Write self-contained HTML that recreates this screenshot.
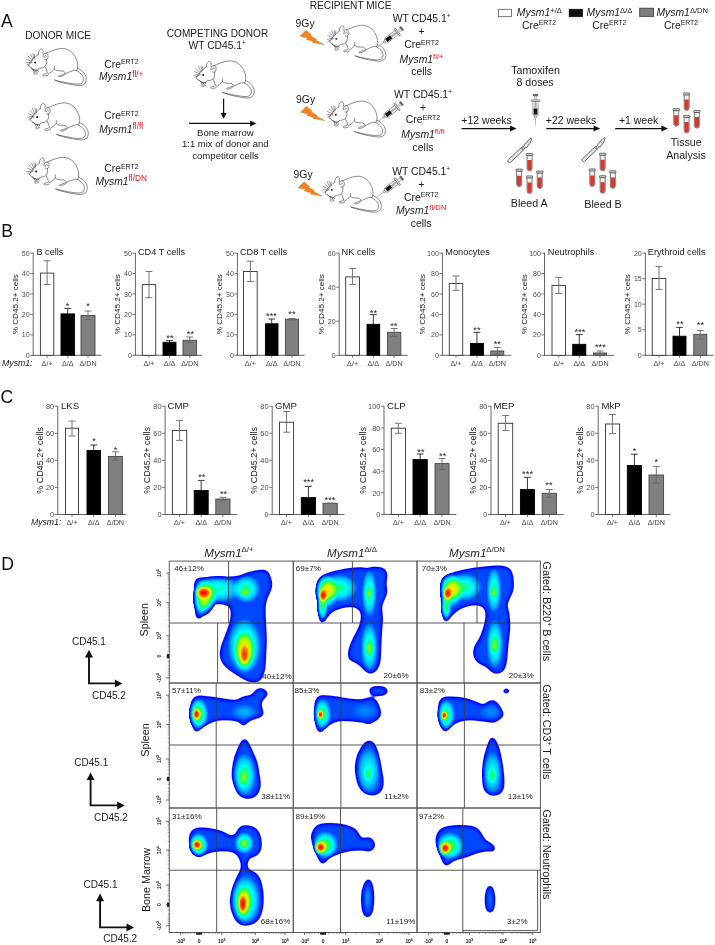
<!DOCTYPE html>
<html><head><meta charset="utf-8"><style>
html,body{margin:0;padding:0;background:#fff;overflow:hidden;width:715px;height:945px;}
svg{display:block;will-change:transform;}
text{font-family:"Liberation Sans", sans-serif;}
</style></head><body>
<svg width="715" height="945" viewBox="0 0 715 945" font-family='"Liberation Sans", sans-serif'>
<defs>

<g id="mouse" fill="none" stroke="#4a4a4a" stroke-width="0.65" stroke-linecap="round" stroke-linejoin="round">
<path fill="#fff" stroke="none" d="M6.4,21 C9,16 13,12 16.4,9.6 C16.5,5 19,3.5 21,6 L23.5,8.8 C30,5 36,3.6 41.1,3.9 C48,5 54,11 55.6,19 C56,22 55.8,24 55,25.5 C50,26 46,27 43,28 L41,32 L36,32 L33,28 L26,29 L25.5,31.8 L20.6,31.8 L16,29.4 L11,29 Z"/>
<path d="M6.4,21 C7.6,18.4 9.6,15.6 11.7,13.7 C13.2,12.3 14.8,10.8 16.3,9.8"/>
<path d="M16.3,9.8 C16.2,7.8 16.9,5.6 18.8,4.4 C20.4,4.2 21.3,5.6 21.1,7.2 L21,9.2"/>
<path fill="#fff" d="M21.0,12.6 C20.6,10.0 22.4,8.2 24.4,8.6 C26.4,9.2 26.6,12.6 25.4,14.4 C24.6,15.4 23.4,15.6 22.6,15.0"/>
<path d="M22.4,12.6 C22.4,11.0 24.0,10.4 24.7,11.9" stroke="#888" stroke-width="1.0"/>
<path d="M23.6,8.8 C25.5,7.8 27.4,7.3 29,6.6 C33,4.8 37,3.8 41.1,3.9 C45,4.2 48.5,6 51,9 C53.6,12 55.2,16 55.6,19.5 C55.9,22 55.6,24 54.8,25.5"/>
<path d="M55.6,23.6 C58.4,24.8 61.6,27 63.4,30.4 C64.8,33.4 64.6,37.2 62.6,39.2 C60.8,40.8 58,41.2 55,40.8 C49,40.1 43,38.9 38,37.4 C35.8,36.7 33.8,36 32.3,35.2"/>
<path d="M54.3,25.9 C56.8,27.2 59.2,29 60.6,31.4 C61.8,33.6 61.8,36.8 60.2,38.2 C58.6,39.6 56,39.7 53,39.4 C47,38.8 41,37.4 36,36.4 C35,36.1 34,35.9 33.3,35.7"/>
<path d="M24.5,14.7 C24.8,16.4 24.8,18.2 24.3,19.6 C23.8,21 23,22 21.8,22.8 C20.8,23.3 19.6,23.5 18.4,23.6"/>
<path d="M6.4,21 C7,22.2 8,23 9.2,23.4"/>
<path d="M23.2,22.2 C24.2,24 25,26.2 25.5,28.4 C24.8,29.2 23,29.6 21.4,29.8 C20.6,30 20.4,30.8 21.2,31.2 C22.6,31.6 24.6,31.4 26.2,30.6"/>
<path d="M32.3,21.5 C32.4,22.6 32.3,23.6 32.3,24.5 C33,25.3 34,25.8 35,26 C37,26.3 39.5,26.4 41.1,26.4 L43.1,27.9"/>
<path d="M43.4,28.4 C41.8,29.6 40,30.4 38.2,30.8 C37,31 36.4,31.4 36.6,32 C37.6,32.4 39.4,32 40.6,31.4 C42,30.6 43.6,29.4 45,28.4 C47,27.4 49,26.6 51,26 C52.4,25.6 53.4,25.6 54.3,25.9"/>
<path d="M26.2,29.4 C28.6,28.2 30.6,26.6 32.3,24.5"/>
<path d="M11.6,28 C12.8,28.2 14.4,28.4 16,28.4 C15,29.2 13.4,29.8 12.2,29.8 C11.4,29.6 11.4,28.8 12.2,28.6" stroke="#777"/>
<path stroke="#5a5a5a" stroke-width="0.6" d="M9.8,17.4 L3.8,18.2 M9.8,16.8 L4.4,14.6 M10.4,16 L6.2,11.6 M11,15.2 L8.6,9.6 M11.8,14.4 L11,9.2 M12.4,13.8 L12.6,9.8 M10.2,17.8 L5,20.2"/>
<path stroke="#555" stroke-width="0.95" d="M9,23.2 C10.4,24.6 12.4,25.6 14.4,25.8 C15.6,25.6 16.8,24.8 17.2,23.8 M10.6,24.4 L12.2,27 M12.6,25.2 L14.2,27.2 M14.6,25.2 L16,26.8"/>
<circle cx="13.2" cy="17.9" r="1.0" fill="#111" stroke="none"/>
</g>
<radialGradient id="rg"><stop offset="0" stop-color="#fff" stop-opacity="1"/><stop offset="0.3" stop-color="#fff" stop-opacity="0.88"/><stop offset="0.65" stop-color="#fff" stop-opacity="0.5"/><stop offset="1" stop-color="#fff" stop-opacity="0"/></radialGradient>
<filter id="jet" x="0" y="0" width="1" height="1" color-interpolation-filters="sRGB">
 <feGaussianBlur in="SourceGraphic" stdDeviation="0.5"/>
 <feColorMatrix type="matrix" values="0 0 0 1 0  0 0 0 1 0  0 0 0 1 0  0 0 0 1 0"/>
 <feComponentTransfer>
  <feFuncR type="table" tableValues="0.000 0.000 0.000 0.000 0.000 0.000 0.000 0.000 0.000 0.000 0.000 0.000 0.000 0.000 0.000 0.000 0.000 0.000 0.000 0.000 0.000 0.000 0.000 0.000 0.000 0.000 0.000 0.000 0.010 0.030 0.050 0.070 0.090 0.160 0.280 0.400 0.520 0.640 0.738 0.813 0.888 0.962 1.000 1.000 1.000 1.000 1.000 1.000 1.000 1.000 1.000"/>
  <feFuncG type="table" tableValues="0.000 0.000 0.000 0.000 0.000 0.000 0.000 0.000 0.000 0.035 0.070 0.105 0.140 0.175 0.210 0.245 0.280 0.352 0.425 0.497 0.569 0.642 0.714 0.775 0.825 0.875 0.925 0.975 1.000 1.000 1.000 1.000 1.000 1.000 1.000 1.000 1.000 1.000 0.987 0.962 0.937 0.913 0.844 0.731 0.619 0.506 0.400 0.300 0.200 0.100 0.000"/>
  <feFuncB type="table" tableValues="1.000 1.000 1.000 1.000 1.000 1.000 1.000 1.000 1.000 1.000 1.000 1.000 1.000 1.000 1.000 1.000 1.000 1.000 1.000 1.000 1.000 1.000 1.000 1.000 1.000 1.000 1.000 1.000 0.935 0.805 0.675 0.545 0.415 0.315 0.245 0.175 0.105 0.035 0.000 0.000 0.000 0.000 0.000 0.000 0.000 0.000 0.000 0.000 0.000 0.000 0.000"/>
  <feFuncA type="table" tableValues="0.000 0.000 0.000 0.000 0.000 0.000 0.333 0.667 1.000 1.000 1.000 1.000 1.000 1.000 1.000 1.000 1.000 1.000 1.000 1.000 1.000 1.000 1.000 1.000 1.000 1.000 1.000 1.000 1.000 1.000 1.000 1.000 1.000 1.000 1.000 1.000 1.000 1.000 1.000 1.000 1.000 1.000 1.000 1.000 1.000 1.000 1.000 1.000 1.000 1.000 1.000"/>
 </feComponentTransfer>
</filter>
<filter id="bl" x="-20%" y="-20%" width="140%" height="140%"><feGaussianBlur stdDeviation="2.0"/></filter>
</defs>
<rect width="715" height="945" fill="#fff"/>
<text x="1" y="27.4" font-size="17.6" fill="#111">A</text><text x="25.3" y="39.2" font-size="10.1" text-anchor="start" fill="#1a1a1a" >DONOR MICE</text><use href="#mouse" x="22" y="44.6"/><use href="#mouse" x="24" y="99"/><use href="#mouse" x="23" y="153.5"/><text x="121.5" y="67.5" font-size="10.3" text-anchor="middle" fill="#1a1a1a">Cre<tspan font-size="7.0" dy="-3.2">ERT2</tspan></text><text x="121.2" y="80.2" font-size="10.3" text-anchor="middle" fill="#1a1a1a"><tspan font-style="italic">Mysm1</tspan><tspan font-size="8.3" dy="-3.6" fill="#e8141c">fl/+</tspan></text><text x="121.5" y="119.2" font-size="10.3" text-anchor="middle" fill="#1a1a1a">Cre<tspan font-size="7.0" dy="-3.2">ERT2</tspan></text><text x="121.2" y="132.5" font-size="10.3" text-anchor="middle" fill="#1a1a1a"><tspan font-style="italic">Mysm1</tspan><tspan font-size="8.3" dy="-3.6" fill="#e8141c">fl/fl</tspan></text><text x="121.5" y="172" font-size="10.3" text-anchor="middle" fill="#1a1a1a">Cre<tspan font-size="7.0" dy="-3.2">ERT2</tspan></text><text x="121.2" y="184.8" font-size="10.3" text-anchor="middle" fill="#1a1a1a"><tspan font-style="italic">Mysm1</tspan><tspan font-size="8.3" dy="-3.6" fill="#e8141c">fl/DN</tspan></text><text x="217.5" y="36.6" font-size="10.1" text-anchor="middle" fill="#1a1a1a" >COMPETING DONOR</text><text x="217.2" y="49.4" font-size="10.3" text-anchor="middle" fill="#1a1a1a">WT CD45.1<tspan font-size="6.5" dy="-4">+</tspan></text><use href="#mouse" x="190" y="57"/><line x1="223.6" y1="98.4" x2="223.6" y2="116" stroke="#111" stroke-width="1.2"/><path d="M220.6,113 L226.6,113 L223.6,118.8 Z" fill="#111"/><line x1="189" y1="123.4" x2="251" y2="123.4" stroke="#111" stroke-width="1.3"/><path d="M250,120.4 L256.6,123.4 L250,126.4 Z" fill="#111"/><text x="225.3" y="135.6" font-size="9.5" text-anchor="middle" fill="#1a1a1a" >Bone marrow</text><text x="225.3" y="147.3" font-size="9.5" text-anchor="middle" fill="#1a1a1a" >1:1 mix of donor and</text><text x="225.5" y="159.0" font-size="9.6" text-anchor="middle" fill="#1a1a1a" >competitor cells</text><text x="350.6" y="8.9" font-size="10.1" text-anchor="middle" fill="#1a1a1a" >RECIPIENT MICE</text><text x="295.6" y="26.6" font-size="10.4" text-anchor="start" fill="#1a1a1a" >9Gy</text><polygon points="300.0,36.3 306.0,30.3 311.6,35.1 310.4,35.7 316.6,39.3 315.4,39.9 324.2,44.6 312.4,42.6 313.6,41.4 306.4,39.5 307.6,38.1" fill="#ef8424" stroke="#d06a12" stroke-width="0.4" stroke-linejoin="round"/><use href="#mouse" transform="translate(323.5,21.5) scale(0.97)"/><g transform="translate(377.6,47.2) rotate(-37.7)"><g fill="none" stroke="#444" stroke-width="0.5">
<line x1="0" y1="0" x2="7.6" y2="0" stroke="#777" stroke-width="0.5"/>
<circle cx="8.6" cy="0" r="1.1" fill="#fff"/>
<path d="M9.7,-0.8 L10.6,-2.6 L24.2,-2.6 L24.2,2.6 L10.6,2.6 L9.7,0.8 Z" fill="#fff"/>
<rect x="11" y="-1.9" width="6.2" height="3.8" fill="#111" stroke="none"/>
<line x1="17.2" y1="0" x2="24" y2="0" stroke="#aaa" stroke-width="2.2"/>
<rect x="24.2" y="-4.6" width="1.5" height="9.2" rx="0.7" fill="#ddd"/>
<rect x="25.7" y="-1.3" width="4.0" height="2.6" fill="#ddd" stroke="#999"/>
<rect x="29.7" y="-2.3" width="1.6" height="4.6" fill="#666" stroke="#555"/>
</g></g><text x="421.6" y="22.4" font-size="10.4" text-anchor="middle" fill="#1a1a1a">WT CD45.1<tspan font-size="6.5" dy="-4">+</tspan></text><text x="421.6" y="35.1" font-size="10.4" text-anchor="middle" fill="#1a1a1a" >+</text><text x="421.6" y="48.3" font-size="10.4" text-anchor="middle" fill="#1a1a1a">Cre<tspan font-size="7.0" dy="-3.2">ERT2</tspan></text><text x="421.6" y="62.5" font-size="10.4" text-anchor="middle" fill="#1a1a1a"><tspan font-style="italic">Mysm1</tspan><tspan font-size="7.7" dy="-3.6" fill="#e8141c">fl/+</tspan></text><text x="421.6" y="74.5" font-size="10.4" text-anchor="middle" fill="#1a1a1a" >cells</text><text x="296.1" y="102.6" font-size="10.4" text-anchor="start" fill="#1a1a1a" >9Gy</text><polygon points="300.5,112.3 306.5,106.3 312.1,111.1 310.9,111.7 317.1,115.3 315.9,115.9 324.7,120.6 312.9,118.6 314.1,117.4 306.9,115.5 308.1,114.1" fill="#ef8424" stroke="#d06a12" stroke-width="0.4" stroke-linejoin="round"/><use href="#mouse" transform="translate(323.0,97.3) scale(0.97)"/><g transform="translate(377.3,122.2) rotate(-37.7)"><g fill="none" stroke="#444" stroke-width="0.5">
<line x1="0" y1="0" x2="7.6" y2="0" stroke="#777" stroke-width="0.5"/>
<circle cx="8.6" cy="0" r="1.1" fill="#fff"/>
<path d="M9.7,-0.8 L10.6,-2.6 L24.2,-2.6 L24.2,2.6 L10.6,2.6 L9.7,0.8 Z" fill="#fff"/>
<rect x="11" y="-1.9" width="6.2" height="3.8" fill="#111" stroke="none"/>
<line x1="17.2" y1="0" x2="24" y2="0" stroke="#aaa" stroke-width="2.2"/>
<rect x="24.2" y="-4.6" width="1.5" height="9.2" rx="0.7" fill="#ddd"/>
<rect x="25.7" y="-1.3" width="4.0" height="2.6" fill="#ddd" stroke="#999"/>
<rect x="29.7" y="-2.3" width="1.6" height="4.6" fill="#666" stroke="#555"/>
</g></g><text x="423.0" y="97.6" font-size="10.4" text-anchor="middle" fill="#1a1a1a">WT CD45.1<tspan font-size="6.5" dy="-4">+</tspan></text><text x="423.0" y="110.8" font-size="10.4" text-anchor="middle" fill="#1a1a1a" >+</text><text x="423.0" y="123.3" font-size="10.4" text-anchor="middle" fill="#1a1a1a">Cre<tspan font-size="7.0" dy="-3.2">ERT2</tspan></text><text x="423.0" y="137.5" font-size="10.4" text-anchor="middle" fill="#1a1a1a"><tspan font-style="italic">Mysm1</tspan><tspan font-size="7.7" dy="-3.6" fill="#e8141c">fl/fl</tspan></text><text x="423.0" y="150.6" font-size="10.4" text-anchor="middle" fill="#1a1a1a" >cells</text><text x="293.6" y="178.1" font-size="10.4" text-anchor="start" fill="#1a1a1a" >9Gy</text><polygon points="298.0,187.8 304.0,181.8 309.6,186.6 308.4,187.2 314.6,190.8 313.4,191.4 322.2,196.1 310.4,194.1 311.6,192.9 304.4,191.0 305.6,189.6" fill="#ef8424" stroke="#d06a12" stroke-width="0.4" stroke-linejoin="round"/><use href="#mouse" transform="translate(319.0,172.5) scale(0.97)"/><g transform="translate(377.6,196.8) rotate(-37.7)"><g fill="none" stroke="#444" stroke-width="0.5">
<line x1="0" y1="0" x2="7.6" y2="0" stroke="#777" stroke-width="0.5"/>
<circle cx="8.6" cy="0" r="1.1" fill="#fff"/>
<path d="M9.7,-0.8 L10.6,-2.6 L24.2,-2.6 L24.2,2.6 L10.6,2.6 L9.7,0.8 Z" fill="#fff"/>
<rect x="11" y="-1.9" width="6.2" height="3.8" fill="#111" stroke="none"/>
<line x1="17.2" y1="0" x2="24" y2="0" stroke="#aaa" stroke-width="2.2"/>
<rect x="24.2" y="-4.6" width="1.5" height="9.2" rx="0.7" fill="#ddd"/>
<rect x="25.7" y="-1.3" width="4.0" height="2.6" fill="#ddd" stroke="#999"/>
<rect x="29.7" y="-2.3" width="1.6" height="4.6" fill="#666" stroke="#555"/>
</g></g><text x="421.2" y="175.1" font-size="10.4" text-anchor="middle" fill="#1a1a1a">WT CD45.1<tspan font-size="6.5" dy="-4">+</tspan></text><text x="421.2" y="188.2" font-size="10.4" text-anchor="middle" fill="#1a1a1a" >+</text><text x="421.2" y="200.6" font-size="10.4" text-anchor="middle" fill="#1a1a1a">Cre<tspan font-size="7.0" dy="-3.2">ERT2</tspan></text><text x="421.2" y="213.9" font-size="10.4" text-anchor="middle" fill="#1a1a1a"><tspan font-style="italic">Mysm1</tspan><tspan font-size="7.7" dy="-3.6" fill="#e8141c">fl/DN</tspan></text><text x="421.2" y="226.5" font-size="10.4" text-anchor="middle" fill="#1a1a1a" >cells</text><rect x="498.3" y="9.3" width="13.2" height="7.4" fill="#fff" stroke="#555" stroke-width="0.8"/><rect x="569.2" y="9.3" width="13.2" height="7.4" fill="#111" stroke="#111" stroke-width="0.8"/><rect x="639.7" y="8.2" width="13.8" height="8.2" fill="#7f7f7f" stroke="#444" stroke-width="0.9"/><text x="516.8" y="16.4" font-size="10.4" fill="#1a1a1a"><tspan font-style="italic">Mysm1</tspan><tspan font-size="7.6" dy="-3.8">+/Δ</tspan></text><text x="586.6" y="16.4" font-size="10.4" fill="#1a1a1a"><tspan font-style="italic">Mysm1</tspan><tspan font-size="7.6" dy="-3.8">Δ/Δ</tspan></text><text x="656.4" y="16.4" font-size="10.4" fill="#1a1a1a"><tspan font-style="italic">Mysm1</tspan><tspan font-size="7.6" dy="-3.8">Δ/DN</tspan></text><text x="522.0" y="28.8" font-size="10.4" fill="#1a1a1a">Cre<tspan font-size="6.8" dy="-3.6">ERT2</tspan></text><text x="592.3" y="28.8" font-size="10.4" fill="#1a1a1a">Cre<tspan font-size="6.8" dy="-3.6">ERT2</tspan></text><text x="664.0" y="28.8" font-size="10.4" fill="#1a1a1a">Cre<tspan font-size="6.8" dy="-3.6">ERT2</tspan></text><text x="535.5" y="74" font-size="10.7" text-anchor="middle" fill="#1a1a1a" >Tamoxifen</text><text x="535.1" y="86.3" font-size="10.6" text-anchor="middle" fill="#1a1a1a" >8 doses</text><g transform="translate(535.5,125.6) rotate(-90)"><g fill="none" stroke="#444" stroke-width="0.5">
<line x1="0" y1="0" x2="7.6" y2="0" stroke="#777" stroke-width="0.5"/>
<circle cx="8.6" cy="0" r="1.1" fill="#fff"/>
<path d="M9.7,-0.8 L10.6,-2.6 L24.2,-2.6 L24.2,2.6 L10.6,2.6 L9.7,0.8 Z" fill="#fff"/>
<rect x="11" y="-1.9" width="6.2" height="3.8" fill="#111" stroke="none"/>
<line x1="17.2" y1="0" x2="24" y2="0" stroke="#aaa" stroke-width="2.2"/>
<rect x="24.2" y="-4.6" width="1.5" height="9.2" rx="0.7" fill="#ddd"/>
<rect x="25.7" y="-1.3" width="4.0" height="2.6" fill="#ddd" stroke="#999"/>
<rect x="29.7" y="-2.3" width="1.6" height="4.6" fill="#666" stroke="#555"/>
</g></g><line x1="461.6" y1="128.6" x2="510.6" y2="128.6" stroke="#111" stroke-width="1.3"/><path d="M510.0,125.6 L516.6,128.6 L510.0,131.6 Z" fill="#111"/><text x="486.6" y="123.6" font-size="10.5" text-anchor="middle" fill="#1a1a1a" >+12 weeks</text><line x1="546.3" y1="128.6" x2="594.2" y2="128.6" stroke="#111" stroke-width="1.3"/><path d="M593.6,125.6 L600.2,128.6 L593.6,131.6 Z" fill="#111"/><text x="571.0" y="123.6" font-size="10.5" text-anchor="middle" fill="#1a1a1a" >+22 weeks</text><line x1="615.2" y1="128.6" x2="662.0" y2="128.6" stroke="#111" stroke-width="1.3"/><path d="M661.4,125.6 L668.0,128.6 L661.4,131.6 Z" fill="#111"/><text x="638.6" y="123.6" font-size="10.5" text-anchor="middle" fill="#1a1a1a" >+1 week</text><g transform="translate(509.6,160.9) rotate(-43.3) scale(1.0)"><g stroke="#222" stroke-width="0.7" stroke-linejoin="round">
<path d="M0,-1.65 L18.4,-1.65 L19.4,-0.9 L19.4,0.9 L18.4,1.65 L0,1.65 A1.65,1.65 0 0 1 0,-1.65 Z" fill="#fff"/>
<path d="M1.6,-1.05 L1.6,1.05 M2.8,-1.05 L2.8,1.05 M3.9,-1.05 L3.9,1.05 M5.0,-1.05 L5.0,1.05 M6.2,-1.05 L6.2,1.05 M7.3,-1.05 L7.3,1.05 M8.5,-1.05 L8.5,1.05 M9.6,-1.05 L9.6,1.05 M10.8,-1.05 L10.8,1.05 M11.9,-1.05 L11.9,1.05 M13.1,-1.05 L13.1,1.05 M14.2,-1.05 L14.2,1.05 M15.4,-1.05 L15.4,1.05 M16.6,-1.05 L16.6,1.05" stroke="#9a9a9a" stroke-width="0.45"/>
<path d="M17,0.9 L18.6,0 L17,-0.9 Z" fill="#fff" stroke-width="0.4"/>
<path d="M19.4,-0.8 L20.6,-0.8 L22,-1.9 L29.6,-2.2 Q31.8,-2.0 31.3,-0.9 Q27,1.95 21.4,1.95 L20.6,0.8 L19.4,0.8" fill="#fff"/>
<path d="M22.6,-1.1 L28.5,-1.3 M22.8,0.4 L27.5,-0.4" stroke="#8a8a8a" stroke-width="0.5"/>
</g></g><g transform="translate(526.25,153.2)"><g>
<path d="M0.8,2.0 L0.8,15.2 Q0.8,17.7 3.3,17.8 Q5.8,17.7 5.8,15.2 L5.8,2.0 Z" fill="#eef0f2" stroke="#3a3a3a" stroke-width="0.65"/>
<path d="M1.15,6.8 L1.15,15.2 Q1.15,17.3 3.3,17.4 Q5.45,17.3 5.45,15.2 L5.45,6.8 Z" fill="#d63a2e"/>
<rect x="0.15" y="0.2" width="6.3" height="2.0" rx="0.5" fill="#d8d8d8" stroke="#3a3a3a" stroke-width="0.7"/>
</g></g><g transform="translate(515.85,168.89999999999998)"><g>
<path d="M0.8,2.0 L0.8,15.2 Q0.8,17.7 3.3,17.8 Q5.8,17.7 5.8,15.2 L5.8,2.0 Z" fill="#eef0f2" stroke="#3a3a3a" stroke-width="0.65"/>
<path d="M1.15,6.8 L1.15,15.2 Q1.15,17.3 3.3,17.4 Q5.45,17.3 5.45,15.2 L5.45,6.8 Z" fill="#d63a2e"/>
<rect x="0.15" y="0.2" width="6.3" height="2.0" rx="0.5" fill="#d8d8d8" stroke="#3a3a3a" stroke-width="0.7"/>
</g></g><g transform="translate(526.25,175.7)"><g>
<path d="M0.8,2.0 L0.8,15.2 Q0.8,17.7 3.3,17.8 Q5.8,17.7 5.8,15.2 L5.8,2.0 Z" fill="#eef0f2" stroke="#3a3a3a" stroke-width="0.65"/>
<path d="M1.15,6.8 L1.15,15.2 Q1.15,17.3 3.3,17.4 Q5.45,17.3 5.45,15.2 L5.45,6.8 Z" fill="#d63a2e"/>
<rect x="0.15" y="0.2" width="6.3" height="2.0" rx="0.5" fill="#d8d8d8" stroke="#3a3a3a" stroke-width="0.7"/>
</g></g><g transform="translate(536.45,170.79999999999998)"><g>
<path d="M0.8,2.0 L0.8,15.2 Q0.8,17.7 3.3,17.8 Q5.8,17.7 5.8,15.2 L5.8,2.0 Z" fill="#eef0f2" stroke="#3a3a3a" stroke-width="0.65"/>
<path d="M1.15,6.8 L1.15,15.2 Q1.15,17.3 3.3,17.4 Q5.45,17.3 5.45,15.2 L5.45,6.8 Z" fill="#d63a2e"/>
<rect x="0.15" y="0.2" width="6.3" height="2.0" rx="0.5" fill="#d8d8d8" stroke="#3a3a3a" stroke-width="0.7"/>
</g></g><text x="529.2" y="207.2" font-size="10.7" text-anchor="middle" fill="#1a1a1a" >Bleed A</text><g transform="translate(583.6,160.0) rotate(-43.6) scale(0.98)"><g stroke="#222" stroke-width="0.7" stroke-linejoin="round">
<path d="M0,-1.65 L18.4,-1.65 L19.4,-0.9 L19.4,0.9 L18.4,1.65 L0,1.65 A1.65,1.65 0 0 1 0,-1.65 Z" fill="#fff"/>
<path d="M1.6,-1.05 L1.6,1.05 M2.8,-1.05 L2.8,1.05 M3.9,-1.05 L3.9,1.05 M5.0,-1.05 L5.0,1.05 M6.2,-1.05 L6.2,1.05 M7.3,-1.05 L7.3,1.05 M8.5,-1.05 L8.5,1.05 M9.6,-1.05 L9.6,1.05 M10.8,-1.05 L10.8,1.05 M11.9,-1.05 L11.9,1.05 M13.1,-1.05 L13.1,1.05 M14.2,-1.05 L14.2,1.05 M15.4,-1.05 L15.4,1.05 M16.6,-1.05 L16.6,1.05" stroke="#9a9a9a" stroke-width="0.45"/>
<path d="M17,0.9 L18.6,0 L17,-0.9 Z" fill="#fff" stroke-width="0.4"/>
<path d="M19.4,-0.8 L20.6,-0.8 L22,-1.9 L29.6,-2.2 Q31.8,-2.0 31.3,-0.9 Q27,1.95 21.4,1.95 L20.6,0.8 L19.4,0.8" fill="#fff"/>
<path d="M22.6,-1.1 L28.5,-1.3 M22.8,0.4 L27.5,-0.4" stroke="#8a8a8a" stroke-width="0.5"/>
</g></g><g transform="translate(599.35,153.0)"><g>
<path d="M0.8,2.0 L0.8,15.2 Q0.8,17.7 3.3,17.8 Q5.8,17.7 5.8,15.2 L5.8,2.0 Z" fill="#eef0f2" stroke="#3a3a3a" stroke-width="0.65"/>
<path d="M1.15,6.8 L1.15,15.2 Q1.15,17.3 3.3,17.4 Q5.45,17.3 5.45,15.2 L5.45,6.8 Z" fill="#d63a2e"/>
<rect x="0.15" y="0.2" width="6.3" height="2.0" rx="0.5" fill="#d8d8d8" stroke="#3a3a3a" stroke-width="0.7"/>
</g></g><g transform="translate(588.95,168.7)"><g>
<path d="M0.8,2.0 L0.8,15.2 Q0.8,17.7 3.3,17.8 Q5.8,17.7 5.8,15.2 L5.8,2.0 Z" fill="#eef0f2" stroke="#3a3a3a" stroke-width="0.65"/>
<path d="M1.15,6.8 L1.15,15.2 Q1.15,17.3 3.3,17.4 Q5.45,17.3 5.45,15.2 L5.45,6.8 Z" fill="#d63a2e"/>
<rect x="0.15" y="0.2" width="6.3" height="2.0" rx="0.5" fill="#d8d8d8" stroke="#3a3a3a" stroke-width="0.7"/>
</g></g><g transform="translate(599.35,175.5)"><g>
<path d="M0.8,2.0 L0.8,15.2 Q0.8,17.7 3.3,17.8 Q5.8,17.7 5.8,15.2 L5.8,2.0 Z" fill="#eef0f2" stroke="#3a3a3a" stroke-width="0.65"/>
<path d="M1.15,6.8 L1.15,15.2 Q1.15,17.3 3.3,17.4 Q5.45,17.3 5.45,15.2 L5.45,6.8 Z" fill="#d63a2e"/>
<rect x="0.15" y="0.2" width="6.3" height="2.0" rx="0.5" fill="#d8d8d8" stroke="#3a3a3a" stroke-width="0.7"/>
</g></g><g transform="translate(609.5500000000001,170.6)"><g>
<path d="M0.8,2.0 L0.8,15.2 Q0.8,17.7 3.3,17.8 Q5.8,17.7 5.8,15.2 L5.8,2.0 Z" fill="#eef0f2" stroke="#3a3a3a" stroke-width="0.65"/>
<path d="M1.15,6.8 L1.15,15.2 Q1.15,17.3 3.3,17.4 Q5.45,17.3 5.45,15.2 L5.45,6.8 Z" fill="#d63a2e"/>
<rect x="0.15" y="0.2" width="6.3" height="2.0" rx="0.5" fill="#d8d8d8" stroke="#3a3a3a" stroke-width="0.7"/>
</g></g><text x="603.0" y="207.5" font-size="10.7" text-anchor="middle" fill="#1a1a1a" >Bleed B</text><g transform="translate(683.35,92.7)"><g>
<path d="M0.8,2.0 L0.8,15.2 Q0.8,17.7 3.3,17.8 Q5.8,17.7 5.8,15.2 L5.8,2.0 Z" fill="#eef0f2" stroke="#3a3a3a" stroke-width="0.65"/>
<path d="M1.15,6.8 L1.15,15.2 Q1.15,17.3 3.3,17.4 Q5.45,17.3 5.45,15.2 L5.45,6.8 Z" fill="#d63a2e"/>
<rect x="0.15" y="0.2" width="6.3" height="2.0" rx="0.5" fill="#d8d8d8" stroke="#3a3a3a" stroke-width="0.7"/>
</g></g><g transform="translate(672.95,108.4)"><g>
<path d="M0.8,2.0 L0.8,15.2 Q0.8,17.7 3.3,17.8 Q5.8,17.7 5.8,15.2 L5.8,2.0 Z" fill="#eef0f2" stroke="#3a3a3a" stroke-width="0.65"/>
<path d="M1.15,6.8 L1.15,15.2 Q1.15,17.3 3.3,17.4 Q5.45,17.3 5.45,15.2 L5.45,6.8 Z" fill="#d63a2e"/>
<rect x="0.15" y="0.2" width="6.3" height="2.0" rx="0.5" fill="#d8d8d8" stroke="#3a3a3a" stroke-width="0.7"/>
</g></g><g transform="translate(683.35,115.2)"><g>
<path d="M0.8,2.0 L0.8,15.2 Q0.8,17.7 3.3,17.8 Q5.8,17.7 5.8,15.2 L5.8,2.0 Z" fill="#eef0f2" stroke="#3a3a3a" stroke-width="0.65"/>
<path d="M1.15,6.8 L1.15,15.2 Q1.15,17.3 3.3,17.4 Q5.45,17.3 5.45,15.2 L5.45,6.8 Z" fill="#d63a2e"/>
<rect x="0.15" y="0.2" width="6.3" height="2.0" rx="0.5" fill="#d8d8d8" stroke="#3a3a3a" stroke-width="0.7"/>
</g></g><g transform="translate(693.5500000000001,110.30000000000001)"><g>
<path d="M0.8,2.0 L0.8,15.2 Q0.8,17.7 3.3,17.8 Q5.8,17.7 5.8,15.2 L5.8,2.0 Z" fill="#eef0f2" stroke="#3a3a3a" stroke-width="0.65"/>
<path d="M1.15,6.8 L1.15,15.2 Q1.15,17.3 3.3,17.4 Q5.45,17.3 5.45,15.2 L5.45,6.8 Z" fill="#d63a2e"/>
<rect x="0.15" y="0.2" width="6.3" height="2.0" rx="0.5" fill="#d8d8d8" stroke="#3a3a3a" stroke-width="0.7"/>
</g></g><text x="686.2" y="145.9" font-size="10.6" text-anchor="middle" fill="#1a1a1a" >Tissue</text><text x="686.0" y="158.7" font-size="10.6" text-anchor="middle" fill="#1a1a1a" >Analysis</text>
<text x="1.2" y="236.6" font-size="17.6" fill="#111">B</text><text x="0.6" y="402.8" font-size="17.6" fill="#111">C</text><line x1="33.2" y1="252.79999999999998" x2="33.2" y2="355.7" stroke="#555" stroke-width="0.9"/><line x1="32.800000000000004" y1="355.3" x2="101.5" y2="355.3" stroke="#555" stroke-width="0.9"/><line x1="30.200000000000003" y1="355.30" x2="33.2" y2="355.30" stroke="#555" stroke-width="0.8"/><text x="29.6" y="357.82" font-size="7.0" text-anchor="end" fill="#4a4a4a">0</text><line x1="30.200000000000003" y1="334.86" x2="33.2" y2="334.86" stroke="#555" stroke-width="0.8"/><text x="29.6" y="337.38" font-size="7.0" text-anchor="end" fill="#4a4a4a">10</text><line x1="30.200000000000003" y1="314.42" x2="33.2" y2="314.42" stroke="#555" stroke-width="0.8"/><text x="29.6" y="316.94" font-size="7.0" text-anchor="end" fill="#4a4a4a">20</text><line x1="30.200000000000003" y1="293.98" x2="33.2" y2="293.98" stroke="#555" stroke-width="0.8"/><text x="29.6" y="296.50" font-size="7.0" text-anchor="end" fill="#4a4a4a">30</text><line x1="30.200000000000003" y1="273.54" x2="33.2" y2="273.54" stroke="#555" stroke-width="0.8"/><text x="29.6" y="276.06" font-size="7.0" text-anchor="end" fill="#4a4a4a">40</text><line x1="30.200000000000003" y1="253.10" x2="33.2" y2="253.10" stroke="#555" stroke-width="0.8"/><text x="29.6" y="255.62" font-size="7.0" text-anchor="end" fill="#4a4a4a">50</text><text x="36.4" y="254.7" font-size="9.2" fill="#1a1a1a">B cells</text><text transform="translate(18.12,304.20) rotate(-90)" x="0" y="0" font-size="8.1" text-anchor="middle" fill="#1a1a1a">% CD45.2+ cells</text><rect x="40.4" y="273.1" width="13.399999999999999" height="82.19999999999999" fill="#fff" stroke="#333" stroke-width="0.9"/><line x1="47.10" y1="260.8" x2="47.10" y2="284.5" stroke="#666" stroke-width="0.9"/><line x1="43.70" y1="260.8" x2="50.50" y2="260.8" stroke="#666" stroke-width="0.9"/><line x1="43.70" y1="284.5" x2="50.50" y2="284.5" stroke="#666" stroke-width="0.9"/><line x1="47.10" y1="355.3" x2="47.10" y2="357.90000000000003" stroke="#555" stroke-width="0.8"/><rect x="61" y="313.9" width="13.599999999999994" height="41.400000000000034" fill="#000" stroke="#000" stroke-width="0.9"/><line x1="67.80" y1="308.4" x2="67.80" y2="313.9" stroke="#222" stroke-width="0.9"/><line x1="64.40" y1="308.4" x2="71.20" y2="308.4" stroke="#222" stroke-width="0.9"/><line x1="67.80" y1="355.3" x2="67.80" y2="357.90000000000003" stroke="#555" stroke-width="0.8"/><rect x="81" y="315.5" width="14" height="39.80000000000001" fill="#808080" stroke="#444" stroke-width="0.9"/><line x1="88.00" y1="311" x2="88.00" y2="319.6" stroke="#666" stroke-width="0.9"/><line x1="84.60" y1="311" x2="91.40" y2="311" stroke="#666" stroke-width="0.9"/><line x1="84.60" y1="319.6" x2="91.40" y2="319.6" stroke="#666" stroke-width="0.9"/><line x1="88.00" y1="355.3" x2="88.00" y2="357.90000000000003" stroke="#555" stroke-width="0.8"/><text x="67.7" y="309.0" font-size="9.4" text-anchor="middle" fill="#222">*</text><text x="88.2" y="309.0" font-size="9.4" text-anchor="middle" fill="#222">*</text><text x="47.10" y="366.20" font-size="7.2" text-anchor="middle" fill="#444">Δ/+</text><text x="67.80" y="366.20" font-size="7.2" text-anchor="middle" fill="#444">Δ/Δ</text><text x="88.00" y="366.20" font-size="7.2" text-anchor="middle" fill="#444">Δ/DN</text><line x1="135.4" y1="252.79999999999998" x2="135.4" y2="355.7" stroke="#555" stroke-width="0.9"/><line x1="135.0" y1="355.3" x2="202.3" y2="355.3" stroke="#555" stroke-width="0.9"/><line x1="132.4" y1="355.30" x2="135.4" y2="355.30" stroke="#555" stroke-width="0.8"/><text x="131.8" y="357.82" font-size="7.0" text-anchor="end" fill="#4a4a4a">0</text><line x1="132.4" y1="334.86" x2="135.4" y2="334.86" stroke="#555" stroke-width="0.8"/><text x="131.8" y="337.38" font-size="7.0" text-anchor="end" fill="#4a4a4a">10</text><line x1="132.4" y1="314.42" x2="135.4" y2="314.42" stroke="#555" stroke-width="0.8"/><text x="131.8" y="316.94" font-size="7.0" text-anchor="end" fill="#4a4a4a">20</text><line x1="132.4" y1="293.98" x2="135.4" y2="293.98" stroke="#555" stroke-width="0.8"/><text x="131.8" y="296.50" font-size="7.0" text-anchor="end" fill="#4a4a4a">30</text><line x1="132.4" y1="273.54" x2="135.4" y2="273.54" stroke="#555" stroke-width="0.8"/><text x="131.8" y="276.06" font-size="7.0" text-anchor="end" fill="#4a4a4a">40</text><line x1="132.4" y1="253.10" x2="135.4" y2="253.10" stroke="#555" stroke-width="0.8"/><text x="131.8" y="255.62" font-size="7.0" text-anchor="end" fill="#4a4a4a">50</text><text x="137.9" y="254.7" font-size="9.2" fill="#1a1a1a">CD4 T cells</text><text transform="translate(120.32,304.20) rotate(-90)" x="0" y="0" font-size="8.1" text-anchor="middle" fill="#1a1a1a">% CD45.2+ cells</text><rect x="142.3" y="284.6" width="13.399999999999977" height="70.69999999999999" fill="#fff" stroke="#333" stroke-width="0.9"/><line x1="149.00" y1="271.5" x2="149.00" y2="297.7" stroke="#666" stroke-width="0.9"/><line x1="145.60" y1="271.5" x2="152.40" y2="271.5" stroke="#666" stroke-width="0.9"/><line x1="145.60" y1="297.7" x2="152.40" y2="297.7" stroke="#666" stroke-width="0.9"/><line x1="149.00" y1="355.3" x2="149.00" y2="357.90000000000003" stroke="#555" stroke-width="0.8"/><rect x="163" y="342.3" width="13" height="13.0" fill="#000" stroke="#000" stroke-width="0.9"/><line x1="169.50" y1="340.6" x2="169.50" y2="342.3" stroke="#222" stroke-width="0.9"/><line x1="166.10" y1="340.6" x2="172.90" y2="340.6" stroke="#222" stroke-width="0.9"/><line x1="169.50" y1="355.3" x2="169.50" y2="357.90000000000003" stroke="#555" stroke-width="0.8"/><rect x="183" y="340.3" width="13.599999999999994" height="15.0" fill="#808080" stroke="#444" stroke-width="0.9"/><line x1="189.80" y1="337" x2="189.80" y2="342.8" stroke="#666" stroke-width="0.9"/><line x1="186.40" y1="337" x2="193.20" y2="337" stroke="#666" stroke-width="0.9"/><line x1="186.40" y1="342.8" x2="193.20" y2="342.8" stroke="#666" stroke-width="0.9"/><line x1="189.80" y1="355.3" x2="189.80" y2="357.90000000000003" stroke="#555" stroke-width="0.8"/><text x="170" y="341.0" font-size="9.4" text-anchor="middle" fill="#222">**</text><text x="190.5" y="337.0" font-size="9.4" text-anchor="middle" fill="#222">**</text><text x="149.00" y="366.20" font-size="7.2" text-anchor="middle" fill="#444">Δ/+</text><text x="169.50" y="366.20" font-size="7.2" text-anchor="middle" fill="#444">Δ/Δ</text><text x="189.80" y="366.20" font-size="7.2" text-anchor="middle" fill="#444">Δ/DN</text><line x1="237.4" y1="252.79999999999998" x2="237.4" y2="355.7" stroke="#555" stroke-width="0.9"/><line x1="237.0" y1="355.3" x2="304.6" y2="355.3" stroke="#555" stroke-width="0.9"/><line x1="234.4" y1="355.30" x2="237.4" y2="355.30" stroke="#555" stroke-width="0.8"/><text x="233.8" y="357.82" font-size="7.0" text-anchor="end" fill="#4a4a4a">0</text><line x1="234.4" y1="334.86" x2="237.4" y2="334.86" stroke="#555" stroke-width="0.8"/><text x="233.8" y="337.38" font-size="7.0" text-anchor="end" fill="#4a4a4a">10</text><line x1="234.4" y1="314.42" x2="237.4" y2="314.42" stroke="#555" stroke-width="0.8"/><text x="233.8" y="316.94" font-size="7.0" text-anchor="end" fill="#4a4a4a">20</text><line x1="234.4" y1="293.98" x2="237.4" y2="293.98" stroke="#555" stroke-width="0.8"/><text x="233.8" y="296.50" font-size="7.0" text-anchor="end" fill="#4a4a4a">30</text><line x1="234.4" y1="273.54" x2="237.4" y2="273.54" stroke="#555" stroke-width="0.8"/><text x="233.8" y="276.06" font-size="7.0" text-anchor="end" fill="#4a4a4a">40</text><line x1="234.4" y1="253.10" x2="237.4" y2="253.10" stroke="#555" stroke-width="0.8"/><text x="233.8" y="255.62" font-size="7.0" text-anchor="end" fill="#4a4a4a">50</text><text x="239.9" y="254.7" font-size="9.2" fill="#1a1a1a">CD8 T cells</text><text transform="translate(222.32,304.20) rotate(-90)" x="0" y="0" font-size="8.1" text-anchor="middle" fill="#1a1a1a">% CD45.2+ cells</text><rect x="243.5" y="271.5" width="13.699999999999989" height="83.80000000000001" fill="#fff" stroke="#333" stroke-width="0.9"/><line x1="250.35" y1="261.2" x2="250.35" y2="281.5" stroke="#666" stroke-width="0.9"/><line x1="246.95" y1="261.2" x2="253.75" y2="261.2" stroke="#666" stroke-width="0.9"/><line x1="246.95" y1="281.5" x2="253.75" y2="281.5" stroke="#666" stroke-width="0.9"/><line x1="250.35" y1="355.3" x2="250.35" y2="357.90000000000003" stroke="#555" stroke-width="0.8"/><rect x="265.4" y="323.8" width="12.600000000000023" height="31.5" fill="#000" stroke="#000" stroke-width="0.9"/><line x1="271.70" y1="319" x2="271.70" y2="323.8" stroke="#222" stroke-width="0.9"/><line x1="268.30" y1="319" x2="275.10" y2="319" stroke="#222" stroke-width="0.9"/><line x1="271.70" y1="355.3" x2="271.70" y2="357.90000000000003" stroke="#555" stroke-width="0.8"/><rect x="285.4" y="319.2" width="13.100000000000023" height="36.10000000000002" fill="#808080" stroke="#444" stroke-width="0.9"/><line x1="291.95" y1="318.4" x2="291.95" y2="320" stroke="#666" stroke-width="0.9"/><line x1="288.55" y1="318.4" x2="295.35" y2="318.4" stroke="#666" stroke-width="0.9"/><line x1="288.55" y1="320" x2="295.35" y2="320" stroke="#666" stroke-width="0.9"/><line x1="291.95" y1="355.3" x2="291.95" y2="357.90000000000003" stroke="#555" stroke-width="0.8"/><text x="271.5" y="318.7" font-size="9.4" text-anchor="middle" fill="#222">***</text><text x="292" y="317.4" font-size="9.4" text-anchor="middle" fill="#222">**</text><text x="250.35" y="366.20" font-size="7.2" text-anchor="middle" fill="#444">Δ/+</text><text x="271.70" y="366.20" font-size="7.2" text-anchor="middle" fill="#444">Δ/Δ</text><text x="291.95" y="366.20" font-size="7.2" text-anchor="middle" fill="#444">Δ/DN</text><line x1="339.2" y1="252.79999999999998" x2="339.2" y2="355.7" stroke="#555" stroke-width="0.9"/><line x1="338.8" y1="355.3" x2="407.7" y2="355.3" stroke="#555" stroke-width="0.9"/><line x1="336.2" y1="355.30" x2="339.2" y2="355.30" stroke="#555" stroke-width="0.8"/><text x="335.59999999999997" y="357.82" font-size="7.0" text-anchor="end" fill="#4a4a4a">0</text><line x1="336.2" y1="321.23" x2="339.2" y2="321.23" stroke="#555" stroke-width="0.8"/><text x="335.59999999999997" y="323.75" font-size="7.0" text-anchor="end" fill="#4a4a4a">20</text><line x1="336.2" y1="287.17" x2="339.2" y2="287.17" stroke="#555" stroke-width="0.8"/><text x="335.59999999999997" y="289.69" font-size="7.0" text-anchor="end" fill="#4a4a4a">40</text><line x1="336.2" y1="253.10" x2="339.2" y2="253.10" stroke="#555" stroke-width="0.8"/><text x="335.59999999999997" y="255.62" font-size="7.0" text-anchor="end" fill="#4a4a4a">60</text><text x="341.6" y="254.7" font-size="9.2" fill="#1a1a1a">NK cells</text><text transform="translate(324.12,304.20) rotate(-90)" x="0" y="0" font-size="8.1" text-anchor="middle" fill="#1a1a1a">% CD45.2+ cells</text><rect x="345.7" y="276.9" width="13.800000000000011" height="78.40000000000003" fill="#fff" stroke="#333" stroke-width="0.9"/><line x1="352.60" y1="268.5" x2="352.60" y2="284.6" stroke="#666" stroke-width="0.9"/><line x1="349.20" y1="268.5" x2="356.00" y2="268.5" stroke="#666" stroke-width="0.9"/><line x1="349.20" y1="284.6" x2="356.00" y2="284.6" stroke="#666" stroke-width="0.9"/><line x1="352.60" y1="355.3" x2="352.60" y2="357.90000000000003" stroke="#555" stroke-width="0.8"/><rect x="367" y="324.3" width="12.699999999999989" height="31.0" fill="#000" stroke="#000" stroke-width="0.9"/><line x1="373.35" y1="314.6" x2="373.35" y2="324.3" stroke="#222" stroke-width="0.9"/><line x1="369.95" y1="314.6" x2="376.75" y2="314.6" stroke="#222" stroke-width="0.9"/><line x1="373.35" y1="355.3" x2="373.35" y2="357.90000000000003" stroke="#555" stroke-width="0.8"/><rect x="387.4" y="332.3" width="13.400000000000034" height="23.0" fill="#808080" stroke="#444" stroke-width="0.9"/><line x1="394.10" y1="328.5" x2="394.10" y2="336.6" stroke="#666" stroke-width="0.9"/><line x1="390.70" y1="328.5" x2="397.50" y2="328.5" stroke="#666" stroke-width="0.9"/><line x1="390.70" y1="336.6" x2="397.50" y2="336.6" stroke="#666" stroke-width="0.9"/><line x1="394.10" y1="355.3" x2="394.10" y2="357.90000000000003" stroke="#555" stroke-width="0.8"/><text x="373.5" y="315.5" font-size="9.4" text-anchor="middle" fill="#222">**</text><text x="393.8" y="329.0" font-size="9.4" text-anchor="middle" fill="#222">**</text><text x="352.60" y="366.20" font-size="7.2" text-anchor="middle" fill="#444">Δ/+</text><text x="373.35" y="366.20" font-size="7.2" text-anchor="middle" fill="#444">Δ/Δ</text><text x="394.10" y="366.20" font-size="7.2" text-anchor="middle" fill="#444">Δ/DN</text><line x1="442.4" y1="252.79999999999998" x2="442.4" y2="355.7" stroke="#555" stroke-width="0.9"/><line x1="442.0" y1="355.3" x2="511" y2="355.3" stroke="#555" stroke-width="0.9"/><line x1="439.4" y1="355.30" x2="442.4" y2="355.30" stroke="#555" stroke-width="0.8"/><text x="438.79999999999995" y="357.82" font-size="7.0" text-anchor="end" fill="#4a4a4a">0</text><line x1="439.4" y1="334.86" x2="442.4" y2="334.86" stroke="#555" stroke-width="0.8"/><text x="438.79999999999995" y="337.38" font-size="7.0" text-anchor="end" fill="#4a4a4a">20</text><line x1="439.4" y1="314.42" x2="442.4" y2="314.42" stroke="#555" stroke-width="0.8"/><text x="438.79999999999995" y="316.94" font-size="7.0" text-anchor="end" fill="#4a4a4a">40</text><line x1="439.4" y1="293.98" x2="442.4" y2="293.98" stroke="#555" stroke-width="0.8"/><text x="438.79999999999995" y="296.50" font-size="7.0" text-anchor="end" fill="#4a4a4a">60</text><line x1="439.4" y1="273.54" x2="442.4" y2="273.54" stroke="#555" stroke-width="0.8"/><text x="438.79999999999995" y="276.06" font-size="7.0" text-anchor="end" fill="#4a4a4a">80</text><line x1="439.4" y1="253.10" x2="442.4" y2="253.10" stroke="#555" stroke-width="0.8"/><text x="438.79999999999995" y="255.62" font-size="7.0" text-anchor="end" fill="#4a4a4a">100</text><text x="445.3" y="254.7" font-size="9.2" fill="#1a1a1a">Monocytes</text><text transform="translate(424.52,304.20) rotate(-90)" x="0" y="0" font-size="8.1" text-anchor="middle" fill="#1a1a1a">% CD45.2+ cells</text><rect x="449.3" y="283.4" width="13.399999999999977" height="71.90000000000003" fill="#fff" stroke="#333" stroke-width="0.9"/><line x1="456.00" y1="276" x2="456.00" y2="290.3" stroke="#666" stroke-width="0.9"/><line x1="452.60" y1="276" x2="459.40" y2="276" stroke="#666" stroke-width="0.9"/><line x1="452.60" y1="290.3" x2="459.40" y2="290.3" stroke="#666" stroke-width="0.9"/><line x1="456.00" y1="355.3" x2="456.00" y2="357.90000000000003" stroke="#555" stroke-width="0.8"/><rect x="470.4" y="343.4" width="13.100000000000023" height="11.900000000000034" fill="#000" stroke="#000" stroke-width="0.9"/><line x1="476.95" y1="332.3" x2="476.95" y2="343.4" stroke="#222" stroke-width="0.9"/><line x1="473.55" y1="332.3" x2="480.35" y2="332.3" stroke="#222" stroke-width="0.9"/><line x1="476.95" y1="355.3" x2="476.95" y2="357.90000000000003" stroke="#555" stroke-width="0.8"/><rect x="490.8" y="351" width="13.0" height="4.300000000000011" fill="#808080" stroke="#444" stroke-width="0.9"/><line x1="497.30" y1="347.4" x2="497.30" y2="354.6" stroke="#666" stroke-width="0.9"/><line x1="493.90" y1="347.4" x2="500.70" y2="347.4" stroke="#666" stroke-width="0.9"/><line x1="493.90" y1="354.6" x2="500.70" y2="354.6" stroke="#666" stroke-width="0.9"/><line x1="497.30" y1="355.3" x2="497.30" y2="357.90000000000003" stroke="#555" stroke-width="0.8"/><text x="477" y="333.0" font-size="9.4" text-anchor="middle" fill="#222">**</text><text x="497.3" y="347.4" font-size="9.4" text-anchor="middle" fill="#222">**</text><text x="456.00" y="366.20" font-size="7.2" text-anchor="middle" fill="#444">Δ/+</text><text x="476.95" y="366.20" font-size="7.2" text-anchor="middle" fill="#444">Δ/Δ</text><text x="497.30" y="366.20" font-size="7.2" text-anchor="middle" fill="#444">Δ/DN</text><line x1="544.5" y1="252.79999999999998" x2="544.5" y2="355.7" stroke="#555" stroke-width="0.9"/><line x1="544.1" y1="355.3" x2="614" y2="355.3" stroke="#555" stroke-width="0.9"/><line x1="541.5" y1="355.30" x2="544.5" y2="355.30" stroke="#555" stroke-width="0.8"/><text x="540.9" y="357.82" font-size="7.0" text-anchor="end" fill="#4a4a4a">0</text><line x1="541.5" y1="334.86" x2="544.5" y2="334.86" stroke="#555" stroke-width="0.8"/><text x="540.9" y="337.38" font-size="7.0" text-anchor="end" fill="#4a4a4a">20</text><line x1="541.5" y1="314.42" x2="544.5" y2="314.42" stroke="#555" stroke-width="0.8"/><text x="540.9" y="316.94" font-size="7.0" text-anchor="end" fill="#4a4a4a">40</text><line x1="541.5" y1="293.98" x2="544.5" y2="293.98" stroke="#555" stroke-width="0.8"/><text x="540.9" y="296.50" font-size="7.0" text-anchor="end" fill="#4a4a4a">60</text><line x1="541.5" y1="273.54" x2="544.5" y2="273.54" stroke="#555" stroke-width="0.8"/><text x="540.9" y="276.06" font-size="7.0" text-anchor="end" fill="#4a4a4a">80</text><line x1="541.5" y1="253.10" x2="544.5" y2="253.10" stroke="#555" stroke-width="0.8"/><text x="540.9" y="255.62" font-size="7.0" text-anchor="end" fill="#4a4a4a">100</text><text x="547.8" y="254.7" font-size="9.2" fill="#1a1a1a">Neutrophils</text><text transform="translate(526.62,304.20) rotate(-90)" x="0" y="0" font-size="8.1" text-anchor="middle" fill="#1a1a1a">% CD45.2+ cells</text><rect x="552" y="285.4" width="13.5" height="69.90000000000003" fill="#fff" stroke="#333" stroke-width="0.9"/><line x1="558.75" y1="277.4" x2="558.75" y2="293.5" stroke="#666" stroke-width="0.9"/><line x1="555.35" y1="277.4" x2="562.15" y2="277.4" stroke="#666" stroke-width="0.9"/><line x1="555.35" y1="293.5" x2="562.15" y2="293.5" stroke="#666" stroke-width="0.9"/><line x1="558.75" y1="355.3" x2="558.75" y2="357.90000000000003" stroke="#555" stroke-width="0.8"/><rect x="572.7" y="344.3" width="13.099999999999909" height="11.0" fill="#000" stroke="#000" stroke-width="0.9"/><line x1="579.25" y1="334.6" x2="579.25" y2="344.3" stroke="#222" stroke-width="0.9"/><line x1="575.85" y1="334.6" x2="582.65" y2="334.6" stroke="#222" stroke-width="0.9"/><line x1="579.25" y1="355.3" x2="579.25" y2="357.90000000000003" stroke="#555" stroke-width="0.8"/><rect x="593.5" y="353" width="13.0" height="2.3000000000000114" fill="#808080" stroke="#444" stroke-width="0.9"/><line x1="600.00" y1="351" x2="600.00" y2="355" stroke="#666" stroke-width="0.9"/><line x1="596.60" y1="351" x2="603.40" y2="351" stroke="#666" stroke-width="0.9"/><line x1="596.60" y1="355" x2="603.40" y2="355" stroke="#666" stroke-width="0.9"/><line x1="600.00" y1="355.3" x2="600.00" y2="357.90000000000003" stroke="#555" stroke-width="0.8"/><text x="580" y="334.8" font-size="9.4" text-anchor="middle" fill="#222">***</text><text x="600.4" y="350.0" font-size="9.4" text-anchor="middle" fill="#222">***</text><text x="558.75" y="366.20" font-size="7.2" text-anchor="middle" fill="#444">Δ/+</text><text x="579.25" y="366.20" font-size="7.2" text-anchor="middle" fill="#444">Δ/Δ</text><text x="600.00" y="366.20" font-size="7.2" text-anchor="middle" fill="#444">Δ/DN</text><line x1="645.3" y1="252.79999999999998" x2="645.3" y2="355.7" stroke="#555" stroke-width="0.9"/><line x1="644.9" y1="355.3" x2="713.5" y2="355.3" stroke="#555" stroke-width="0.9"/><line x1="642.3" y1="355.30" x2="645.3" y2="355.30" stroke="#555" stroke-width="0.8"/><text x="641.6999999999999" y="357.82" font-size="7.0" text-anchor="end" fill="#4a4a4a">0</text><line x1="642.3" y1="329.75" x2="645.3" y2="329.75" stroke="#555" stroke-width="0.8"/><text x="641.6999999999999" y="332.27" font-size="7.0" text-anchor="end" fill="#4a4a4a">5</text><line x1="642.3" y1="304.20" x2="645.3" y2="304.20" stroke="#555" stroke-width="0.8"/><text x="641.6999999999999" y="306.72" font-size="7.0" text-anchor="end" fill="#4a4a4a">10</text><line x1="642.3" y1="278.65" x2="645.3" y2="278.65" stroke="#555" stroke-width="0.8"/><text x="641.6999999999999" y="281.17" font-size="7.0" text-anchor="end" fill="#4a4a4a">15</text><line x1="642.3" y1="253.10" x2="645.3" y2="253.10" stroke="#555" stroke-width="0.8"/><text x="641.6999999999999" y="255.62" font-size="7.0" text-anchor="end" fill="#4a4a4a">20</text><text x="647.8" y="254.7" font-size="9.2" fill="#1a1a1a">Erythroid cells</text><text transform="translate(630.22,304.20) rotate(-90)" x="0" y="0" font-size="8.1" text-anchor="middle" fill="#1a1a1a">% CD45.2+ cells</text><rect x="652.2" y="278.5" width="13.599999999999909" height="76.80000000000001" fill="#fff" stroke="#333" stroke-width="0.9"/><line x1="659.00" y1="266.5" x2="659.00" y2="289.5" stroke="#666" stroke-width="0.9"/><line x1="655.60" y1="266.5" x2="662.40" y2="266.5" stroke="#666" stroke-width="0.9"/><line x1="655.60" y1="289.5" x2="662.40" y2="289.5" stroke="#666" stroke-width="0.9"/><line x1="659.00" y1="355.3" x2="659.00" y2="357.90000000000003" stroke="#555" stroke-width="0.8"/><rect x="673" y="336.2" width="13" height="19.100000000000023" fill="#000" stroke="#000" stroke-width="0.9"/><line x1="679.50" y1="327.4" x2="679.50" y2="336.2" stroke="#222" stroke-width="0.9"/><line x1="676.10" y1="327.4" x2="682.90" y2="327.4" stroke="#222" stroke-width="0.9"/><line x1="679.50" y1="355.3" x2="679.50" y2="357.90000000000003" stroke="#555" stroke-width="0.8"/><rect x="693.8" y="334.3" width="13.0" height="21.0" fill="#808080" stroke="#444" stroke-width="0.9"/><line x1="700.30" y1="330.5" x2="700.30" y2="339" stroke="#666" stroke-width="0.9"/><line x1="696.90" y1="330.5" x2="703.70" y2="330.5" stroke="#666" stroke-width="0.9"/><line x1="696.90" y1="339" x2="703.70" y2="339" stroke="#666" stroke-width="0.9"/><line x1="700.30" y1="355.3" x2="700.30" y2="357.90000000000003" stroke="#555" stroke-width="0.8"/><text x="680" y="327.0" font-size="9.4" text-anchor="middle" fill="#222">**</text><text x="700.4" y="328.3" font-size="9.4" text-anchor="middle" fill="#222">**</text><text x="659.00" y="366.20" font-size="7.2" text-anchor="middle" fill="#444">Δ/+</text><text x="679.50" y="366.20" font-size="7.2" text-anchor="middle" fill="#444">Δ/Δ</text><text x="700.30" y="366.20" font-size="7.2" text-anchor="middle" fill="#444">Δ/DN</text><line x1="57.8" y1="405.9" x2="57.8" y2="514.9" stroke="#555" stroke-width="0.9"/><line x1="57.4" y1="514.5" x2="126" y2="514.5" stroke="#555" stroke-width="0.9"/><line x1="54.8" y1="514.50" x2="57.8" y2="514.50" stroke="#555" stroke-width="0.8"/><text x="54.199999999999996" y="517.16" font-size="7.4" text-anchor="end" fill="#4a4a4a">0</text><line x1="54.8" y1="487.43" x2="57.8" y2="487.43" stroke="#555" stroke-width="0.8"/><text x="54.199999999999996" y="490.09" font-size="7.4" text-anchor="end" fill="#4a4a4a">20</text><line x1="54.8" y1="460.35" x2="57.8" y2="460.35" stroke="#555" stroke-width="0.8"/><text x="54.199999999999996" y="463.01" font-size="7.4" text-anchor="end" fill="#4a4a4a">40</text><line x1="54.8" y1="433.27" x2="57.8" y2="433.27" stroke="#555" stroke-width="0.8"/><text x="54.199999999999996" y="435.94" font-size="7.4" text-anchor="end" fill="#4a4a4a">60</text><line x1="54.8" y1="406.20" x2="57.8" y2="406.20" stroke="#555" stroke-width="0.8"/><text x="54.199999999999996" y="408.86" font-size="7.4" text-anchor="end" fill="#4a4a4a">80</text><text x="61" y="408.6" font-size="9.6" fill="#1a1a1a">LKS</text><text transform="translate(43.04,460.35) rotate(-90)" x="0" y="0" font-size="9.0" text-anchor="middle" fill="#1a1a1a">% CD45.2+ cells</text><rect x="65.5" y="428.2" width="13.0" height="86.30000000000001" fill="#fff" stroke="#333" stroke-width="0.9"/><line x1="72.00" y1="421" x2="72.00" y2="436" stroke="#666" stroke-width="0.9"/><line x1="68.60" y1="421" x2="75.40" y2="421" stroke="#666" stroke-width="0.9"/><line x1="68.60" y1="436" x2="75.40" y2="436" stroke="#666" stroke-width="0.9"/><line x1="72.00" y1="514.5" x2="72.00" y2="517.1" stroke="#555" stroke-width="0.8"/><rect x="87" y="450.5" width="13.5" height="64.0" fill="#000" stroke="#000" stroke-width="0.9"/><line x1="93.75" y1="445" x2="93.75" y2="450.5" stroke="#222" stroke-width="0.9"/><line x1="90.35" y1="445" x2="97.15" y2="445" stroke="#222" stroke-width="0.9"/><line x1="93.75" y1="514.5" x2="93.75" y2="517.1" stroke="#555" stroke-width="0.8"/><rect x="108.5" y="456.4" width="13.900000000000006" height="58.10000000000002" fill="#808080" stroke="#444" stroke-width="0.9"/><line x1="115.45" y1="451.8" x2="115.45" y2="460.4" stroke="#666" stroke-width="0.9"/><line x1="112.05" y1="451.8" x2="118.85" y2="451.8" stroke="#666" stroke-width="0.9"/><line x1="112.05" y1="460.4" x2="118.85" y2="460.4" stroke="#666" stroke-width="0.9"/><line x1="115.45" y1="514.5" x2="115.45" y2="517.1" stroke="#555" stroke-width="0.8"/><text x="94" y="444.0" font-size="9.4" text-anchor="middle" fill="#222">*</text><text x="115.5" y="452.7" font-size="9.4" text-anchor="middle" fill="#222">*</text><text x="72.00" y="525.40" font-size="7.2" text-anchor="middle" fill="#444">Δ/+</text><text x="93.75" y="525.40" font-size="7.2" text-anchor="middle" fill="#444">Δ/Δ</text><text x="115.45" y="525.40" font-size="7.2" text-anchor="middle" fill="#444">Δ/DN</text><line x1="165.1" y1="405.9" x2="165.1" y2="514.9" stroke="#555" stroke-width="0.9"/><line x1="164.7" y1="514.5" x2="237.3" y2="514.5" stroke="#555" stroke-width="0.9"/><line x1="162.1" y1="514.50" x2="165.1" y2="514.50" stroke="#555" stroke-width="0.8"/><text x="161.5" y="517.16" font-size="7.4" text-anchor="end" fill="#4a4a4a">0</text><line x1="162.1" y1="487.43" x2="165.1" y2="487.43" stroke="#555" stroke-width="0.8"/><text x="161.5" y="490.09" font-size="7.4" text-anchor="end" fill="#4a4a4a">20</text><line x1="162.1" y1="460.35" x2="165.1" y2="460.35" stroke="#555" stroke-width="0.8"/><text x="161.5" y="463.01" font-size="7.4" text-anchor="end" fill="#4a4a4a">40</text><line x1="162.1" y1="433.27" x2="165.1" y2="433.27" stroke="#555" stroke-width="0.8"/><text x="161.5" y="435.94" font-size="7.4" text-anchor="end" fill="#4a4a4a">60</text><line x1="162.1" y1="406.20" x2="165.1" y2="406.20" stroke="#555" stroke-width="0.8"/><text x="161.5" y="408.86" font-size="7.4" text-anchor="end" fill="#4a4a4a">80</text><text x="167.6" y="408.6" font-size="9.6" fill="#1a1a1a">CMP</text><text transform="translate(150.34,460.35) rotate(-90)" x="0" y="0" font-size="9.0" text-anchor="middle" fill="#1a1a1a">% CD45.2+ cells</text><rect x="172.4" y="430.4" width="14.299999999999983" height="84.10000000000002" fill="#fff" stroke="#333" stroke-width="0.9"/><line x1="179.55" y1="420.4" x2="179.55" y2="440.4" stroke="#666" stroke-width="0.9"/><line x1="176.15" y1="420.4" x2="182.95" y2="420.4" stroke="#666" stroke-width="0.9"/><line x1="176.15" y1="440.4" x2="182.95" y2="440.4" stroke="#666" stroke-width="0.9"/><line x1="179.55" y1="514.5" x2="179.55" y2="517.1" stroke="#555" stroke-width="0.8"/><rect x="194.2" y="490.5" width="14.0" height="24.0" fill="#000" stroke="#000" stroke-width="0.9"/><line x1="201.20" y1="480.4" x2="201.20" y2="490.5" stroke="#222" stroke-width="0.9"/><line x1="197.80" y1="480.4" x2="204.60" y2="480.4" stroke="#222" stroke-width="0.9"/><line x1="201.20" y1="514.5" x2="201.20" y2="517.1" stroke="#555" stroke-width="0.8"/><rect x="215.8" y="499" width="14.199999999999989" height="15.5" fill="#808080" stroke="#444" stroke-width="0.9"/><line x1="222.90" y1="497.3" x2="222.90" y2="500.7" stroke="#666" stroke-width="0.9"/><line x1="219.50" y1="497.3" x2="226.30" y2="497.3" stroke="#666" stroke-width="0.9"/><line x1="219.50" y1="500.7" x2="226.30" y2="500.7" stroke="#666" stroke-width="0.9"/><line x1="222.90" y1="514.5" x2="222.90" y2="517.1" stroke="#555" stroke-width="0.8"/><text x="201.8" y="480.4" font-size="9.4" text-anchor="middle" fill="#222">**</text><text x="223.6" y="496.7" font-size="9.4" text-anchor="middle" fill="#222">**</text><text x="179.55" y="525.40" font-size="7.2" text-anchor="middle" fill="#444">Δ/+</text><text x="201.20" y="525.40" font-size="7.2" text-anchor="middle" fill="#444">Δ/Δ</text><text x="222.90" y="525.40" font-size="7.2" text-anchor="middle" fill="#444">Δ/DN</text><line x1="272.2" y1="405.9" x2="272.2" y2="514.9" stroke="#555" stroke-width="0.9"/><line x1="271.8" y1="514.5" x2="344.5" y2="514.5" stroke="#555" stroke-width="0.9"/><line x1="269.2" y1="514.50" x2="272.2" y2="514.50" stroke="#555" stroke-width="0.8"/><text x="268.59999999999997" y="517.16" font-size="7.4" text-anchor="end" fill="#4a4a4a">0</text><line x1="269.2" y1="487.43" x2="272.2" y2="487.43" stroke="#555" stroke-width="0.8"/><text x="268.59999999999997" y="490.09" font-size="7.4" text-anchor="end" fill="#4a4a4a">20</text><line x1="269.2" y1="460.35" x2="272.2" y2="460.35" stroke="#555" stroke-width="0.8"/><text x="268.59999999999997" y="463.01" font-size="7.4" text-anchor="end" fill="#4a4a4a">40</text><line x1="269.2" y1="433.27" x2="272.2" y2="433.27" stroke="#555" stroke-width="0.8"/><text x="268.59999999999997" y="435.94" font-size="7.4" text-anchor="end" fill="#4a4a4a">60</text><line x1="269.2" y1="406.20" x2="272.2" y2="406.20" stroke="#555" stroke-width="0.8"/><text x="268.59999999999997" y="408.86" font-size="7.4" text-anchor="end" fill="#4a4a4a">80</text><text x="275" y="408.6" font-size="9.6" fill="#1a1a1a">GMP</text><text transform="translate(257.44,460.35) rotate(-90)" x="0" y="0" font-size="9.0" text-anchor="middle" fill="#1a1a1a">% CD45.2+ cells</text><rect x="279.5" y="422.2" width="14.100000000000023" height="92.30000000000001" fill="#fff" stroke="#333" stroke-width="0.9"/><line x1="286.55" y1="411.5" x2="286.55" y2="432.2" stroke="#666" stroke-width="0.9"/><line x1="283.15" y1="411.5" x2="289.95" y2="411.5" stroke="#666" stroke-width="0.9"/><line x1="283.15" y1="432.2" x2="289.95" y2="432.2" stroke="#666" stroke-width="0.9"/><line x1="286.55" y1="514.5" x2="286.55" y2="517.1" stroke="#555" stroke-width="0.8"/><rect x="301.3" y="497.6" width="14.199999999999989" height="16.899999999999977" fill="#000" stroke="#000" stroke-width="0.9"/><line x1="308.40" y1="486.4" x2="308.40" y2="497.6" stroke="#222" stroke-width="0.9"/><line x1="305.00" y1="486.4" x2="311.80" y2="486.4" stroke="#222" stroke-width="0.9"/><line x1="308.40" y1="514.5" x2="308.40" y2="517.1" stroke="#555" stroke-width="0.8"/><rect x="323" y="503.3" width="14.300000000000011" height="11.199999999999989" fill="#808080" stroke="#444" stroke-width="0.9"/><line x1="330.15" y1="503" x2="330.15" y2="503.6" stroke="#666" stroke-width="0.9"/><line x1="326.75" y1="503" x2="333.55" y2="503" stroke="#666" stroke-width="0.9"/><line x1="326.75" y1="503.6" x2="333.55" y2="503.6" stroke="#666" stroke-width="0.9"/><line x1="330.15" y1="514.5" x2="330.15" y2="517.1" stroke="#555" stroke-width="0.8"/><text x="308.7" y="485.0" font-size="9.4" text-anchor="middle" fill="#222">***</text><text x="330" y="503.0" font-size="9.4" text-anchor="middle" fill="#222">***</text><text x="286.55" y="525.40" font-size="7.2" text-anchor="middle" fill="#444">Δ/+</text><text x="308.40" y="525.40" font-size="7.2" text-anchor="middle" fill="#444">Δ/Δ</text><text x="330.15" y="525.40" font-size="7.2" text-anchor="middle" fill="#444">Δ/DN</text><line x1="384" y1="405.9" x2="384" y2="514.9" stroke="#555" stroke-width="0.9"/><line x1="383.6" y1="514.5" x2="456.4" y2="514.5" stroke="#555" stroke-width="0.9"/><line x1="381" y1="514.50" x2="384" y2="514.50" stroke="#555" stroke-width="0.8"/><text x="380.4" y="517.16" font-size="7.4" text-anchor="end" fill="#4a4a4a">0</text><line x1="381" y1="492.84" x2="384" y2="492.84" stroke="#555" stroke-width="0.8"/><text x="380.4" y="495.50" font-size="7.4" text-anchor="end" fill="#4a4a4a">20</text><line x1="381" y1="471.18" x2="384" y2="471.18" stroke="#555" stroke-width="0.8"/><text x="380.4" y="473.84" font-size="7.4" text-anchor="end" fill="#4a4a4a">40</text><line x1="381" y1="449.52" x2="384" y2="449.52" stroke="#555" stroke-width="0.8"/><text x="380.4" y="452.18" font-size="7.4" text-anchor="end" fill="#4a4a4a">60</text><line x1="381" y1="427.86" x2="384" y2="427.86" stroke="#555" stroke-width="0.8"/><text x="380.4" y="430.52" font-size="7.4" text-anchor="end" fill="#4a4a4a">80</text><line x1="381" y1="406.20" x2="384" y2="406.20" stroke="#555" stroke-width="0.8"/><text x="380.4" y="408.86" font-size="7.4" text-anchor="end" fill="#4a4a4a">100</text><text x="387" y="408.6" font-size="9.6" fill="#1a1a1a">CLP</text><text transform="translate(366.44,460.35) rotate(-90)" x="0" y="0" font-size="9.0" text-anchor="middle" fill="#1a1a1a">% CD45.2+ cells</text><rect x="391.3" y="428.2" width="14.199999999999989" height="86.30000000000001" fill="#fff" stroke="#333" stroke-width="0.9"/><line x1="398.40" y1="423.3" x2="398.40" y2="433.3" stroke="#666" stroke-width="0.9"/><line x1="395.00" y1="423.3" x2="401.80" y2="423.3" stroke="#666" stroke-width="0.9"/><line x1="395.00" y1="433.3" x2="401.80" y2="433.3" stroke="#666" stroke-width="0.9"/><line x1="398.40" y1="514.5" x2="398.40" y2="517.1" stroke="#555" stroke-width="0.8"/><rect x="413" y="459.6" width="14.300000000000011" height="54.89999999999998" fill="#000" stroke="#000" stroke-width="0.9"/><line x1="420.15" y1="454" x2="420.15" y2="459.6" stroke="#222" stroke-width="0.9"/><line x1="416.75" y1="454" x2="423.55" y2="454" stroke="#222" stroke-width="0.9"/><line x1="420.15" y1="514.5" x2="420.15" y2="517.1" stroke="#555" stroke-width="0.8"/><rect x="435" y="463.6" width="14" height="50.89999999999998" fill="#808080" stroke="#444" stroke-width="0.9"/><line x1="442.00" y1="458.5" x2="442.00" y2="469.5" stroke="#666" stroke-width="0.9"/><line x1="438.60" y1="458.5" x2="445.40" y2="458.5" stroke="#666" stroke-width="0.9"/><line x1="438.60" y1="469.5" x2="445.40" y2="469.5" stroke="#666" stroke-width="0.9"/><line x1="442.00" y1="514.5" x2="442.00" y2="517.1" stroke="#555" stroke-width="0.8"/><text x="421" y="455.0" font-size="9.4" text-anchor="middle" fill="#222">**</text><text x="442.7" y="459.0" font-size="9.4" text-anchor="middle" fill="#222">**</text><text x="398.40" y="525.40" font-size="7.2" text-anchor="middle" fill="#444">Δ/+</text><text x="420.15" y="525.40" font-size="7.2" text-anchor="middle" fill="#444">Δ/Δ</text><text x="442.00" y="525.40" font-size="7.2" text-anchor="middle" fill="#444">Δ/DN</text><line x1="491" y1="405.9" x2="491" y2="514.9" stroke="#555" stroke-width="0.9"/><line x1="490.6" y1="514.5" x2="563.6" y2="514.5" stroke="#555" stroke-width="0.9"/><line x1="488" y1="514.50" x2="491" y2="514.50" stroke="#555" stroke-width="0.8"/><text x="487.4" y="517.16" font-size="7.4" text-anchor="end" fill="#4a4a4a">0</text><line x1="488" y1="487.43" x2="491" y2="487.43" stroke="#555" stroke-width="0.8"/><text x="487.4" y="490.09" font-size="7.4" text-anchor="end" fill="#4a4a4a">20</text><line x1="488" y1="460.35" x2="491" y2="460.35" stroke="#555" stroke-width="0.8"/><text x="487.4" y="463.01" font-size="7.4" text-anchor="end" fill="#4a4a4a">40</text><line x1="488" y1="433.27" x2="491" y2="433.27" stroke="#555" stroke-width="0.8"/><text x="487.4" y="435.94" font-size="7.4" text-anchor="end" fill="#4a4a4a">60</text><line x1="488" y1="406.20" x2="491" y2="406.20" stroke="#555" stroke-width="0.8"/><text x="487.4" y="408.86" font-size="7.4" text-anchor="end" fill="#4a4a4a">80</text><text x="493.6" y="408.6" font-size="9.6" fill="#1a1a1a">MEP</text><text transform="translate(476.24,460.35) rotate(-90)" x="0" y="0" font-size="9.0" text-anchor="middle" fill="#1a1a1a">% CD45.2+ cells</text><rect x="498.2" y="423.3" width="14.500000000000057" height="91.19999999999999" fill="#fff" stroke="#333" stroke-width="0.9"/><line x1="505.45" y1="415.5" x2="505.45" y2="430.4" stroke="#666" stroke-width="0.9"/><line x1="502.05" y1="415.5" x2="508.85" y2="415.5" stroke="#666" stroke-width="0.9"/><line x1="502.05" y1="430.4" x2="508.85" y2="430.4" stroke="#666" stroke-width="0.9"/><line x1="505.45" y1="514.5" x2="505.45" y2="517.1" stroke="#555" stroke-width="0.8"/><rect x="520.4" y="489.6" width="14.100000000000023" height="24.899999999999977" fill="#000" stroke="#000" stroke-width="0.9"/><line x1="527.45" y1="477.3" x2="527.45" y2="489.6" stroke="#222" stroke-width="0.9"/><line x1="524.05" y1="477.3" x2="530.85" y2="477.3" stroke="#222" stroke-width="0.9"/><line x1="527.45" y1="514.5" x2="527.45" y2="517.1" stroke="#555" stroke-width="0.8"/><rect x="542.2" y="493.3" width="14.199999999999932" height="21.19999999999999" fill="#808080" stroke="#444" stroke-width="0.9"/><line x1="549.30" y1="489.5" x2="549.30" y2="497.3" stroke="#666" stroke-width="0.9"/><line x1="545.90" y1="489.5" x2="552.70" y2="489.5" stroke="#666" stroke-width="0.9"/><line x1="545.90" y1="497.3" x2="552.70" y2="497.3" stroke="#666" stroke-width="0.9"/><line x1="549.30" y1="514.5" x2="549.30" y2="517.1" stroke="#555" stroke-width="0.8"/><text x="527.6" y="476.7" font-size="9.4" text-anchor="middle" fill="#222">***</text><text x="549" y="488.0" font-size="9.4" text-anchor="middle" fill="#222">**</text><text x="505.45" y="525.40" font-size="7.2" text-anchor="middle" fill="#444">Δ/+</text><text x="527.45" y="525.40" font-size="7.2" text-anchor="middle" fill="#444">Δ/Δ</text><text x="549.30" y="525.40" font-size="7.2" text-anchor="middle" fill="#444">Δ/DN</text><line x1="598.2" y1="405.9" x2="598.2" y2="514.9" stroke="#555" stroke-width="0.9"/><line x1="597.8000000000001" y1="514.5" x2="670.5" y2="514.5" stroke="#555" stroke-width="0.9"/><line x1="595.2" y1="514.50" x2="598.2" y2="514.50" stroke="#555" stroke-width="0.8"/><text x="594.6" y="517.16" font-size="7.4" text-anchor="end" fill="#4a4a4a">0</text><line x1="595.2" y1="487.43" x2="598.2" y2="487.43" stroke="#555" stroke-width="0.8"/><text x="594.6" y="490.09" font-size="7.4" text-anchor="end" fill="#4a4a4a">20</text><line x1="595.2" y1="460.35" x2="598.2" y2="460.35" stroke="#555" stroke-width="0.8"/><text x="594.6" y="463.01" font-size="7.4" text-anchor="end" fill="#4a4a4a">40</text><line x1="595.2" y1="433.27" x2="598.2" y2="433.27" stroke="#555" stroke-width="0.8"/><text x="594.6" y="435.94" font-size="7.4" text-anchor="end" fill="#4a4a4a">60</text><line x1="595.2" y1="406.20" x2="598.2" y2="406.20" stroke="#555" stroke-width="0.8"/><text x="594.6" y="408.86" font-size="7.4" text-anchor="end" fill="#4a4a4a">80</text><text x="601.5" y="408.6" font-size="9.6" fill="#1a1a1a">MkP</text><text transform="translate(583.44,460.35) rotate(-90)" x="0" y="0" font-size="9.0" text-anchor="middle" fill="#1a1a1a">% CD45.2+ cells</text><rect x="605.5" y="424" width="14.100000000000023" height="90.5" fill="#fff" stroke="#333" stroke-width="0.9"/><line x1="612.55" y1="414.5" x2="612.55" y2="433.6" stroke="#666" stroke-width="0.9"/><line x1="609.15" y1="414.5" x2="615.95" y2="414.5" stroke="#666" stroke-width="0.9"/><line x1="609.15" y1="433.6" x2="615.95" y2="433.6" stroke="#666" stroke-width="0.9"/><line x1="612.55" y1="514.5" x2="612.55" y2="517.1" stroke="#555" stroke-width="0.8"/><rect x="627.3" y="465.5" width="14.200000000000045" height="49.0" fill="#000" stroke="#000" stroke-width="0.9"/><line x1="634.40" y1="454.2" x2="634.40" y2="465.5" stroke="#222" stroke-width="0.9"/><line x1="631.00" y1="454.2" x2="637.80" y2="454.2" stroke="#222" stroke-width="0.9"/><line x1="634.40" y1="514.5" x2="634.40" y2="517.1" stroke="#555" stroke-width="0.8"/><rect x="649" y="475" width="14.600000000000023" height="39.5" fill="#808080" stroke="#444" stroke-width="0.9"/><line x1="656.30" y1="466.4" x2="656.30" y2="483" stroke="#666" stroke-width="0.9"/><line x1="652.90" y1="466.4" x2="659.70" y2="466.4" stroke="#666" stroke-width="0.9"/><line x1="652.90" y1="483" x2="659.70" y2="483" stroke="#666" stroke-width="0.9"/><line x1="656.30" y1="514.5" x2="656.30" y2="517.1" stroke="#555" stroke-width="0.8"/><text x="634.5" y="454.0" font-size="9.4" text-anchor="middle" fill="#222">*</text><text x="656.4" y="465.0" font-size="9.4" text-anchor="middle" fill="#222">*</text><text x="612.55" y="525.40" font-size="7.2" text-anchor="middle" fill="#444">Δ/+</text><text x="634.40" y="525.40" font-size="7.2" text-anchor="middle" fill="#444">Δ/Δ</text><text x="656.30" y="525.40" font-size="7.2" text-anchor="middle" fill="#444">Δ/DN</text><text x="2.1" y="366.3" font-size="8.7" font-style="italic" fill="#1a1a1a">Mysm1:</text><text x="30.9" y="525.3" font-size="8.7" font-style="italic" fill="#1a1a1a">Mysm1:</text>
<text x="1.2" y="570.2" font-size="17.6" fill="#111">D</text><path d="M89.0,655.8 L89.0,683.4 L116.5,683.4" fill="none" stroke="#111" stroke-width="1.9"/><path d="M85.0,657.4 L89.0,649.8 L93.0,657.4 Z" fill="#111"/><path d="M114.9,679.4 L122.5,683.4 L114.9,687.4 Z" fill="#111"/><text x="72.0" y="644.8" font-size="10.0" text-anchor="start" fill="#1a1a1a" >CD45.1</text><text x="92.0" y="698.7" font-size="10.0" text-anchor="start" fill="#1a1a1a" >CD45.2</text><path d="M90.6,778.4 L90.6,805.4 L118.8,805.4" fill="none" stroke="#111" stroke-width="1.9"/><path d="M86.6,780.0 L90.6,772.4 L94.6,780.0 Z" fill="#111"/><path d="M117.2,801.4 L124.8,805.4 L117.2,809.4 Z" fill="#111"/><text x="74.3" y="766.1" font-size="10.0" text-anchor="start" fill="#1a1a1a" >CD45.1</text><text x="94.0" y="821.1" font-size="10.0" text-anchor="start" fill="#1a1a1a" >CD45.2</text><path d="M100.1,899.6 L100.1,927.4 L128.1,927.4" fill="none" stroke="#111" stroke-width="1.9"/><path d="M96.1,901.2 L100.1,893.6 L104.1,901.2 Z" fill="#111"/><path d="M126.5,923.4 L134.1,927.4 L126.5,931.4 Z" fill="#111"/><text x="83.6" y="888.1" font-size="10.0" text-anchor="start" fill="#1a1a1a" >CD45.1</text><text x="103.2" y="942.3" font-size="10.0" text-anchor="start" fill="#1a1a1a" >CD45.2</text><text x="228.9" y="556.8" font-size="11.6" text-anchor="middle" fill="#1a1a1a"><tspan font-style="italic">Mysm1</tspan><tspan font-size="7.8" dy="-4.4">Δ/+</tspan></text><text x="352.0" y="556.8" font-size="11.6" text-anchor="middle" fill="#1a1a1a"><tspan font-style="italic">Mysm1</tspan><tspan font-size="7.8" dy="-4.4">Δ/Δ</tspan></text><text x="477.0" y="556.8" font-size="11.6" text-anchor="middle" fill="#1a1a1a"><tspan font-style="italic">Mysm1</tspan><tspan font-size="7.8" dy="-4.4">Δ/DN</tspan></text><text transform="translate(543.4,561.5) rotate(90)" x="0" y="0" font-size="10.8" fill="#1a1a1a">Gated: B220<tspan font-size="7" dy="-3.6">+</tspan><tspan dy="3.6"> B cells</tspan></text><text transform="translate(543.4,684.4) rotate(90)" x="0" y="0" font-size="10.8" fill="#1a1a1a">Gated: CD3<tspan font-size="7" dy="-3.6">+</tspan><tspan dy="3.6"> T cells</tspan></text><text transform="translate(543.4,809.4) rotate(90)" x="0" y="0" font-size="10.8" fill="#1a1a1a">Gated: Neutrophils</text><text transform="translate(148.4,619.7) rotate(-90)" x="0" y="0" font-size="10.8" text-anchor="middle" fill="#1a1a1a">Spleen</text><text transform="translate(149.20000000000002,740.0) rotate(-90)" x="0" y="0" font-size="10.8" text-anchor="middle" fill="#1a1a1a">Spleen</text><text transform="translate(150.0,880.0) rotate(-90)" x="0" y="0" font-size="10.8" text-anchor="middle" fill="#1a1a1a">Bone Marrow</text><g transform="translate(169.3,561.1)"><g filter="url(#jet)"><rect x="0" y="0" width="124.0" height="121.89999999999998" fill="none"/><path d="M26.20,19.20 C27.82,16.13 29.75,17.12 35.00,16.60 C40.25,16.08 51.87,16.38 57.70,16.10 C63.53,15.82 66.80,15.55 70.00,14.90 C73.20,14.25 73.42,13.17 76.90,12.20 C80.38,11.23 87.40,9.38 90.90,9.10 C94.40,8.82 96.15,9.10 97.90,10.50 C99.65,11.90 100.67,14.88 101.40,17.50 C102.13,20.12 102.88,23.00 102.30,26.20 C101.72,29.40 98.98,33.48 97.90,36.70 C96.82,39.92 96.08,41.42 95.80,45.50 C95.52,49.58 96.00,55.67 96.20,61.20 C96.40,66.73 97.00,72.87 97.00,78.70 C97.00,84.53 96.48,91.25 96.20,96.20 C95.92,101.15 96.18,104.62 95.30,108.40 C94.42,112.18 93.08,116.87 90.90,118.90 C88.72,120.93 85.12,120.90 82.20,120.60 C79.28,120.30 77.48,119.43 73.40,117.10 C69.32,114.77 61.33,109.80 57.70,106.60 C54.07,103.40 52.62,101.10 51.60,97.90 C50.58,94.70 50.88,91.18 51.60,87.40 C52.32,83.62 54.45,79.28 55.90,75.20 C57.35,71.12 59.27,66.70 60.30,62.90 C61.33,59.10 62.10,55.30 62.10,52.40 C62.10,49.50 61.62,47.10 60.30,45.50 C58.98,43.90 56.67,43.25 54.20,42.80 C51.73,42.35 48.27,42.07 45.50,42.80 C42.73,43.53 39.80,45.02 37.60,47.20 C35.40,49.38 33.90,54.15 32.30,55.90 C30.70,57.65 29.02,58.57 28.00,57.70 C26.98,56.83 26.65,54.48 26.20,50.70 C25.75,46.92 25.30,40.25 25.30,35.00 C25.30,29.75 24.58,22.27 26.20,19.20 Z" fill="#fff" fill-opacity="0.32" filter="url(#bl)"/><ellipse cx="48" cy="28" rx="24" ry="14" fill="url(#rg)" opacity="0.4"/><ellipse cx="35" cy="37" rx="12" ry="19" fill="url(#rg)" opacity="0.68"/><ellipse cx="34.1" cy="31.5" rx="9" ry="6.5" fill="url(#rg)" opacity="1.0"/><ellipse cx="77" cy="28" rx="14" ry="14" fill="url(#rg)" opacity="0.45"/><ellipse cx="75.2" cy="31.5" rx="6" ry="4.5" fill="url(#rg)" opacity="0.35"/><ellipse cx="75.2" cy="85" rx="17" ry="28" fill="url(#rg)" opacity="0.55"/><ellipse cx="75.2" cy="91" rx="11" ry="20" fill="url(#rg)" opacity="0.55"/><ellipse cx="75.2" cy="94.4" rx="5" ry="11" fill="url(#rg)" opacity="0.8"/></g></g><g transform="translate(169.3,683.0)"><g filter="url(#jet)"><rect x="0" y="0" width="124.0" height="125.0" fill="none"/><path d="M22.70,17.50 C23.72,16.18 25.08,13.68 28.00,13.10 C30.92,12.52 36.13,13.57 40.20,14.00 C44.27,14.43 48.03,15.12 52.40,15.70 C56.77,16.28 62.90,17.78 66.40,17.50 C69.90,17.22 70.77,14.88 73.40,14.00 C76.03,13.12 80.15,13.22 82.20,12.20 C84.25,11.18 84.25,9.07 85.70,7.90 C87.15,6.73 89.02,5.20 90.90,5.20 C92.78,5.20 95.83,6.73 97.00,7.90 C98.17,9.07 98.33,10.90 97.90,12.20 C97.47,13.50 95.42,14.53 94.40,15.70 C93.38,16.87 92.08,17.45 91.80,19.20 C91.52,20.95 92.27,24.30 92.70,26.20 C93.13,28.10 94.70,29.28 94.40,30.60 C94.10,31.92 92.93,33.08 90.90,34.10 C88.87,35.12 84.53,35.68 82.20,36.70 C79.87,37.72 78.22,39.03 76.90,40.20 C75.58,41.37 75.17,43.70 74.30,43.70 C73.43,43.70 73.02,41.22 71.70,40.20 C70.38,39.18 69.62,38.18 66.40,37.60 C63.18,37.02 56.47,36.42 52.40,36.70 C48.33,36.98 45.48,37.83 42.00,39.30 C38.52,40.77 33.98,43.88 31.50,45.50 C29.02,47.12 28.42,49.30 27.10,49.00 C25.78,48.70 24.62,46.62 23.60,43.70 C22.58,40.78 21.28,35.28 21.00,31.50 C20.72,27.72 21.62,23.33 21.90,21.00 C22.18,18.67 21.68,18.82 22.70,17.50 Z" fill="#fff" fill-opacity="0.32" filter="url(#bl)"/><path d="M75.20,55.60 C76.37,55.77 77.83,58.20 79.00,60.00 C80.17,61.80 80.80,63.28 82.20,66.40 C83.60,69.52 86.10,74.32 87.40,78.70 C88.70,83.08 89.42,88.63 90.00,92.70 C90.58,96.77 91.33,99.90 90.90,103.10 C90.47,106.30 89.43,109.85 87.40,111.90 C85.37,113.95 81.62,115.40 78.70,115.40 C75.78,115.40 72.23,114.23 69.90,111.90 C67.57,109.57 65.87,104.90 64.70,101.40 C63.53,97.90 62.90,94.98 62.90,90.90 C62.90,86.82 63.67,81.27 64.70,76.90 C65.73,72.53 67.88,67.68 69.10,64.70 C70.32,61.72 70.98,60.52 72.00,59.00 C73.02,57.48 74.03,55.43 75.20,55.60 Z" fill="#fff" fill-opacity="0.32" filter="url(#bl)"/><ellipse cx="29" cy="31" rx="10" ry="16" fill="url(#rg)" opacity="0.6"/><ellipse cx="27.1" cy="31.1" rx="4.5" ry="6.5" fill="url(#rg)" opacity="1.0"/><ellipse cx="75" cy="29" rx="13" ry="8" fill="url(#rg)" opacity="0.17"/><ellipse cx="75" cy="92" rx="12" ry="22" fill="url(#rg)" opacity="0.45"/><ellipse cx="74.3" cy="95.3" rx="6" ry="11" fill="url(#rg)" opacity="0.27"/></g></g><g transform="translate(169.3,808.0)"><g filter="url(#jet)"><rect x="0" y="0" width="124.0" height="124.5" fill="none"/><path d="M20.10,29.70 C20.38,27.07 21.10,24.30 22.70,22.70 C24.30,21.10 26.48,20.38 29.70,20.10 C32.92,19.82 38.22,20.42 42.00,21.00 C45.78,21.58 49.20,22.43 52.40,23.60 C55.60,24.77 58.87,27.57 61.20,28.00 C63.53,28.43 64.95,27.52 66.40,26.20 C67.85,24.88 68.30,21.55 69.90,20.10 C71.50,18.65 73.37,17.50 76.00,17.50 C78.63,17.50 83.22,18.35 85.70,20.10 C88.18,21.85 89.88,24.65 90.90,28.00 C91.92,31.35 92.38,37.00 91.80,40.20 C91.22,43.40 89.30,45.60 87.40,47.20 C85.50,48.80 82.00,48.35 80.40,49.80 C78.80,51.25 78.08,54.00 77.80,55.90 C77.52,57.80 77.38,59.73 78.70,61.20 C80.02,62.67 83.67,62.95 85.70,64.70 C87.73,66.45 89.60,68.50 90.90,71.70 C92.20,74.90 93.07,79.53 93.50,83.90 C93.93,88.27 94.08,93.53 93.50,97.90 C92.92,102.27 91.60,107.18 90.00,110.10 C88.40,113.02 86.67,114.23 83.90,115.40 C81.13,116.57 76.32,117.68 73.40,117.10 C70.48,116.52 68.28,114.52 66.40,111.90 C64.52,109.28 62.97,104.90 62.10,101.40 C61.23,97.90 60.92,94.68 61.20,90.90 C61.48,87.12 62.63,82.48 63.80,78.70 C64.97,74.92 66.88,71.12 68.20,68.20 C69.52,65.28 71.12,63.53 71.70,61.20 C72.28,58.87 72.28,56.53 71.70,54.20 C71.12,51.87 69.67,48.95 68.20,47.20 C66.73,45.45 65.53,44.43 62.90,43.70 C60.27,42.97 56.18,42.65 52.40,42.80 C48.62,42.95 43.98,43.57 40.20,44.60 C36.42,45.63 32.18,48.72 29.70,49.00 C27.22,49.28 26.75,48.05 25.30,46.30 C23.85,44.55 21.87,41.27 21.00,38.50 C20.13,35.73 19.82,32.33 20.10,29.70 Z" fill="#fff" fill-opacity="0.32" filter="url(#bl)"/><ellipse cx="29" cy="37" rx="10" ry="12" fill="url(#rg)" opacity="0.6"/><ellipse cx="27.6" cy="36.7" rx="5.5" ry="5.5" fill="url(#rg)" opacity="1.0"/><ellipse cx="75" cy="35" rx="10" ry="11" fill="url(#rg)" opacity="0.52"/><ellipse cx="74.3" cy="35.8" rx="4.5" ry="4.5" fill="url(#rg)" opacity="0.22"/><ellipse cx="76" cy="92" rx="15" ry="25" fill="url(#rg)" opacity="0.55"/><ellipse cx="73.8" cy="95" rx="8" ry="17" fill="url(#rg)" opacity="0.6"/><ellipse cx="73.4" cy="96.2" rx="4" ry="10" fill="url(#rg)" opacity="1.0"/></g></g><g transform="translate(293.3,561.1)"><g filter="url(#jet)"><rect x="0" y="0" width="123.69999999999999" height="121.89999999999998" fill="none"/><path d="M26.20,17.50 C27.95,15.17 31.20,13.67 35.00,12.20 C38.80,10.73 44.63,9.57 49.00,8.70 C53.37,7.83 57.70,7.35 61.20,7.00 C64.70,6.65 67.97,6.45 70.00,6.60 C72.03,6.75 71.95,7.98 73.40,7.90 C74.85,7.82 76.07,6.25 78.70,6.10 C81.33,5.95 86.73,5.98 89.20,7.00 C91.67,8.02 92.92,9.58 93.50,12.20 C94.08,14.82 92.70,19.48 92.70,22.70 C92.70,25.92 93.80,28.87 93.50,31.50 C93.20,34.13 91.77,36.17 90.90,38.50 C90.03,40.83 88.58,42.30 88.30,45.50 C88.02,48.70 89.20,53.63 89.20,57.70 C89.20,61.77 88.60,64.95 88.30,69.90 C88.00,74.85 87.70,82.15 87.40,87.40 C87.10,92.65 87.37,97.62 86.50,101.40 C85.63,105.18 84.08,108.35 82.20,110.10 C80.32,111.85 77.38,112.48 75.20,111.90 C73.02,111.32 71.15,108.35 69.10,106.60 C67.05,104.85 65.10,102.85 62.90,101.40 C60.70,99.95 57.12,99.93 55.90,97.90 C54.68,95.87 55.02,92.40 55.60,89.20 C56.18,86.00 57.73,82.50 59.40,78.70 C61.07,74.90 64.13,70.20 65.60,66.40 C67.07,62.60 68.07,58.80 68.20,55.90 C68.33,53.00 67.57,50.68 66.40,49.00 C65.23,47.32 63.53,46.33 61.20,45.80 C58.87,45.27 55.32,45.42 52.40,45.80 C49.48,46.18 46.32,47.00 43.70,48.10 C41.08,49.20 38.73,50.52 36.70,52.40 C34.67,54.28 32.95,57.78 31.50,59.40 C30.05,61.02 28.93,62.68 28.00,62.10 C27.07,61.52 26.48,59.55 25.90,55.90 C25.32,52.25 24.73,45.15 24.50,40.20 C24.27,35.25 24.22,29.98 24.50,26.20 C24.78,22.42 24.45,19.83 26.20,17.50 Z" fill="#fff" fill-opacity="0.32" filter="url(#bl)"/><ellipse cx="33" cy="30" rx="12" ry="17" fill="url(#rg)" opacity="0.7"/><ellipse cx="29.7" cy="34.1" rx="5" ry="7.5" fill="url(#rg)" opacity="1.0"/><ellipse cx="46" cy="27" rx="18" ry="14" fill="url(#rg)" opacity="0.45"/><ellipse cx="29" cy="46" rx="5.5" ry="13" fill="url(#rg)" opacity="0.5"/><ellipse cx="76" cy="32" rx="7.5" ry="24" fill="url(#rg)" opacity="0.45"/><ellipse cx="75.2" cy="32.3" rx="4" ry="5" fill="url(#rg)" opacity="0.3"/><ellipse cx="76" cy="86" rx="8.5" ry="25" fill="url(#rg)" opacity="0.45"/><ellipse cx="76" cy="87.4" rx="4.5" ry="8" fill="url(#rg)" opacity="0.28"/></g></g><g transform="translate(293.3,683.0)"><g filter="url(#jet)"><rect x="0" y="0" width="123.69999999999999" height="125.0" fill="none"/><path d="M21.90,19.20 C22.72,15.85 24.02,14.12 26.20,13.10 C28.38,12.08 31.20,12.80 35.00,13.10 C38.80,13.40 44.63,14.32 49.00,14.90 C53.37,15.48 57.72,16.32 61.20,16.60 C64.68,16.88 67.57,16.88 69.90,16.60 C72.23,16.32 73.30,15.05 75.20,14.90 C77.10,14.75 79.70,14.68 81.30,15.70 C82.90,16.72 83.78,18.67 84.80,21.00 C85.82,23.33 87.25,27.37 87.40,29.70 C87.55,32.03 86.87,33.53 85.70,35.00 C84.53,36.47 82.15,37.48 80.40,38.50 C78.65,39.52 76.95,40.97 75.20,41.10 C73.45,41.23 73.70,39.88 69.90,39.30 C66.10,38.72 57.35,37.60 52.40,37.60 C47.45,37.60 43.68,37.98 40.20,39.30 C36.72,40.62 33.68,43.75 31.50,45.50 C29.32,47.25 28.42,49.80 27.10,49.80 C25.78,49.80 24.57,48.27 23.60,45.50 C22.63,42.73 21.58,37.58 21.30,33.20 C21.02,28.82 21.08,22.55 21.90,19.20 Z" fill="#fff" fill-opacity="0.32" filter="url(#bl)"/><path d="M76.00,8.00 C76.00,6.73 76.97,4.97 78.50,4.20 C80.03,3.43 82.95,3.35 85.20,3.40 C87.45,3.45 90.47,3.73 92.00,4.50 C93.53,5.27 94.40,6.83 94.40,8.00 C94.40,9.17 93.53,10.73 92.00,11.50 C90.47,12.27 87.45,12.55 85.20,12.60 C82.95,12.65 80.03,12.57 78.50,11.80 C76.97,11.03 76.00,9.27 76.00,8.00 Z" fill="#fff" fill-opacity="0.32" filter="url(#bl)"/><path d="M75.20,57.70 C77.23,57.42 79.55,58.58 81.30,61.20 C83.05,63.82 84.53,69.03 85.70,73.40 C86.87,77.77 87.58,83.02 88.30,87.40 C89.02,91.78 90.15,96.20 90.00,99.70 C89.85,103.20 89.00,106.37 87.40,108.40 C85.80,110.43 83.02,111.62 80.40,111.90 C77.78,112.18 74.17,111.57 71.70,110.10 C69.23,108.63 67.20,106.88 65.60,103.10 C64.00,99.32 62.40,92.35 62.10,87.40 C61.80,82.45 62.63,77.48 63.80,73.40 C64.97,69.32 67.20,65.52 69.10,62.90 C71.00,60.28 73.17,57.98 75.20,57.70 Z" fill="#fff" fill-opacity="0.32" filter="url(#bl)"/><ellipse cx="29" cy="31" rx="9" ry="16" fill="url(#rg)" opacity="0.5"/><ellipse cx="27.1" cy="31.5" rx="3.6" ry="5" fill="url(#rg)" opacity="1.0"/><ellipse cx="72" cy="28" rx="14" ry="8" fill="url(#rg)" opacity="0.1"/><ellipse cx="75.2" cy="88" rx="12" ry="24" fill="url(#rg)" opacity="0.35"/><ellipse cx="75.2" cy="91" rx="5.5" ry="9" fill="url(#rg)" opacity="0.2"/></g></g><g transform="translate(293.3,808.0)"><g filter="url(#jet)"><rect x="0" y="0" width="123.69999999999999" height="124.5" fill="none"/><path d="M18.40,26.20 C19.12,24.02 20.52,20.15 22.70,18.40 C24.88,16.65 27.70,16.08 31.50,15.70 C35.30,15.32 41.43,15.65 45.50,16.10 C49.57,16.55 53.00,17.43 55.90,18.40 C58.80,19.37 61.00,20.02 62.90,21.90 C64.80,23.78 66.13,28.25 67.30,29.70 C68.47,31.15 68.30,30.60 69.90,30.60 C71.50,30.60 75.08,29.12 76.90,29.70 C78.72,30.28 80.07,32.63 80.80,34.10 C81.53,35.57 81.80,37.05 81.30,38.50 C80.80,39.95 79.12,42.08 77.80,42.80 C76.48,43.52 75.00,42.93 73.40,42.80 C71.80,42.67 71.12,42.00 68.20,42.00 C65.28,42.00 59.98,42.08 55.90,42.80 C51.82,43.52 47.18,44.98 43.70,46.30 C40.22,47.62 37.33,49.10 35.00,50.70 C32.67,52.30 31.17,55.62 29.70,55.90 C28.23,56.18 27.65,55.02 26.20,52.40 C24.75,49.78 22.30,43.68 21.00,40.20 C19.70,36.72 18.83,33.83 18.40,31.50 C17.97,29.17 17.68,28.38 18.40,26.20 Z" fill="#fff" fill-opacity="0.32" filter="url(#bl)"/><path d="M75.20,70.80 C76.80,70.80 78.63,75.05 79.50,78.70 C80.37,82.35 80.53,88.33 80.40,92.70 C80.27,97.07 79.72,102.13 78.70,104.90 C77.68,107.67 75.77,109.30 74.30,109.30 C72.83,109.30 70.92,107.97 69.90,104.90 C68.88,101.83 68.20,95.27 68.20,90.90 C68.20,86.53 68.73,82.05 69.90,78.70 C71.07,75.35 73.60,70.80 75.20,70.80 Z" fill="#fff" fill-opacity="0.32" filter="url(#bl)"/><ellipse cx="32" cy="37" rx="13" ry="14" fill="url(#rg)" opacity="0.55"/><ellipse cx="27.1" cy="39.3" rx="6.5" ry="7.5" fill="url(#rg)" opacity="1.0"/><ellipse cx="74.3" cy="90" rx="4" ry="12" fill="url(#rg)" opacity="0.12"/></g></g><g transform="translate(417.0,561.1)"><g filter="url(#jet)"><rect x="0" y="0" width="123.39999999999998" height="121.89999999999998" fill="none"/><path d="M25.30,17.50 C27.05,15.17 30.48,13.80 35.00,12.20 C39.52,10.60 46.57,9.00 52.40,7.90 C58.23,6.80 64.75,6.10 70.00,5.60 C75.25,5.10 80.12,4.52 83.90,4.90 C87.68,5.28 90.72,6.10 92.70,7.90 C94.68,9.70 95.22,12.35 95.80,15.70 C96.38,19.05 96.72,24.50 96.20,28.00 C95.68,31.50 93.73,34.08 92.70,36.70 C91.67,39.32 90.15,41.08 90.00,43.70 C89.85,46.32 91.35,48.62 91.80,52.40 C92.25,56.18 92.85,61.15 92.70,66.40 C92.55,71.65 91.48,78.07 90.90,83.90 C90.32,89.73 90.07,97.03 89.20,101.40 C88.33,105.77 87.75,108.35 85.70,110.10 C83.65,111.85 79.53,112.62 76.90,111.90 C74.27,111.18 72.52,107.55 69.90,105.80 C67.28,104.05 63.38,103.30 61.20,101.40 C59.02,99.50 57.38,97.02 56.80,94.40 C56.22,91.78 56.68,88.62 57.70,85.70 C58.72,82.78 61.30,80.40 62.90,76.90 C64.50,73.40 66.27,68.78 67.30,64.70 C68.33,60.62 69.25,55.55 69.10,52.40 C68.95,49.25 68.02,47.25 66.40,45.80 C64.78,44.35 62.02,43.90 59.40,43.70 C56.78,43.50 53.60,43.87 50.70,44.60 C47.80,45.33 44.62,46.50 42.00,48.10 C39.38,49.70 37.20,52.02 35.00,54.20 C32.80,56.38 30.27,60.92 28.80,61.20 C27.33,61.48 26.92,59.10 26.20,55.90 C25.48,52.70 24.78,46.95 24.50,42.00 C24.22,37.05 24.37,30.28 24.50,26.20 C24.63,22.12 23.55,19.83 25.30,17.50 Z" fill="#fff" fill-opacity="0.32" filter="url(#bl)"/><ellipse cx="34" cy="29" rx="12" ry="17" fill="url(#rg)" opacity="0.7"/><ellipse cx="30.6" cy="32.3" rx="5" ry="7.5" fill="url(#rg)" opacity="1.0"/><ellipse cx="47" cy="26" rx="18" ry="14" fill="url(#rg)" opacity="0.45"/><ellipse cx="29" cy="46" rx="5.5" ry="13" fill="url(#rg)" opacity="0.5"/><ellipse cx="77" cy="29" rx="7.5" ry="23" fill="url(#rg)" opacity="0.45"/><ellipse cx="76.9" cy="31.5" rx="4" ry="5" fill="url(#rg)" opacity="0.3"/><ellipse cx="77.8" cy="83" rx="8.5" ry="25" fill="url(#rg)" opacity="0.45"/><ellipse cx="77.8" cy="84" rx="4.5" ry="8" fill="url(#rg)" opacity="0.28"/></g></g><g transform="translate(417.0,683.0)"><g filter="url(#jet)"><rect x="0" y="0" width="123.39999999999998" height="125.0" fill="none"/><path d="M21.90,21.00 C22.57,17.95 23.12,16.07 25.30,14.90 C27.48,13.73 31.05,13.87 35.00,14.00 C38.95,14.13 44.93,14.83 49.00,15.70 C53.07,16.57 56.50,18.17 59.40,19.20 C62.30,20.23 64.35,22.03 66.40,21.90 C68.45,21.77 69.95,19.13 71.70,18.40 C73.45,17.67 75.15,16.78 76.90,17.50 C78.65,18.22 80.60,20.37 82.20,22.70 C83.80,25.03 86.22,29.45 86.50,31.50 C86.78,33.55 85.50,33.70 83.90,35.00 C82.30,36.30 79.23,38.72 76.90,39.30 C74.57,39.88 73.98,38.93 69.90,38.50 C65.82,38.07 57.35,36.57 52.40,36.70 C47.45,36.83 43.68,37.83 40.20,39.30 C36.72,40.77 33.60,43.88 31.50,45.50 C29.40,47.12 28.77,49.30 27.60,49.00 C26.43,48.70 25.55,46.33 24.50,43.70 C23.45,41.07 21.73,36.98 21.30,33.20 C20.87,29.42 21.23,24.05 21.90,21.00 Z" fill="#fff" fill-opacity="0.32" filter="url(#bl)"/><path d="M85.60,7.90 C85.60,7.23 86.40,6.32 87.00,5.90 C87.60,5.48 88.43,5.38 89.20,5.40 C89.97,5.42 91.00,5.58 91.60,6.00 C92.20,6.42 92.80,7.27 92.80,7.90 C92.80,8.53 92.20,9.38 91.60,9.80 C91.00,10.22 89.97,10.38 89.20,10.40 C88.43,10.42 87.60,10.32 87.00,9.90 C86.40,9.48 85.60,8.57 85.60,7.90 Z" fill="#fff" fill-opacity="0.32" filter="url(#bl)"/><path d="M76.00,54.20 C77.17,55.08 79.08,58.00 80.40,61.20 C81.72,64.40 82.88,68.45 83.90,73.40 C84.92,78.35 86.07,85.65 86.50,90.90 C86.93,96.15 87.22,101.55 86.50,104.90 C85.78,108.25 84.38,109.83 82.20,111.00 C80.02,112.17 75.88,112.63 73.40,111.90 C70.92,111.17 68.60,109.52 67.30,106.60 C66.00,103.68 65.75,99.05 65.60,94.40 C65.45,89.75 65.68,83.65 66.40,78.70 C67.12,73.75 68.73,68.50 69.90,64.70 C71.07,60.90 72.38,57.65 73.40,55.90 C74.42,54.15 74.83,53.32 76.00,54.20 Z" fill="#fff" fill-opacity="0.32" filter="url(#bl)"/><ellipse cx="29" cy="32" rx="9" ry="16" fill="url(#rg)" opacity="0.5"/><ellipse cx="27.1" cy="32.3" rx="3.6" ry="5" fill="url(#rg)" opacity="1.0"/><ellipse cx="74" cy="29" rx="12" ry="8" fill="url(#rg)" opacity="0.1"/><ellipse cx="75.2" cy="90" rx="10" ry="22" fill="url(#rg)" opacity="0.35"/><ellipse cx="75.2" cy="92.7" rx="5.5" ry="9" fill="url(#rg)" opacity="0.2"/><ellipse cx="89.2" cy="7.9" rx="3" ry="2" fill="url(#rg)" opacity="0.12"/></g></g><g transform="translate(417.0,808.0)"><g filter="url(#jet)"><rect x="0" y="0" width="123.39999999999998" height="124.5" fill="none"/><path d="M19.20,29.70 C19.78,27.52 20.65,23.78 22.70,21.90 C24.75,20.02 27.70,19.13 31.50,18.40 C35.30,17.67 41.13,17.37 45.50,17.50 C49.87,17.63 54.80,18.18 57.70,19.20 C60.60,20.22 61.15,21.42 62.90,23.60 C64.65,25.78 66.45,30.40 68.20,32.30 C69.95,34.20 71.80,33.83 73.40,35.00 C75.00,36.17 77.22,37.90 77.80,39.30 C78.38,40.70 77.92,42.82 76.90,43.40 C75.88,43.98 74.32,42.60 71.70,42.80 C69.08,43.00 64.98,43.57 61.20,44.60 C57.42,45.63 53.08,47.70 49.00,49.00 C44.92,50.30 39.92,50.95 36.70,52.40 C33.48,53.85 31.45,57.40 29.70,57.70 C27.95,58.00 27.50,56.53 26.20,54.20 C24.90,51.87 23.07,46.90 21.90,43.70 C20.73,40.50 19.65,37.33 19.20,35.00 C18.75,32.67 18.62,31.88 19.20,29.70 Z" fill="#fff" fill-opacity="0.32" filter="url(#bl)"/><path d="M73.00,77.20 C74.07,77.20 75.40,78.70 76.20,81.00 C77.00,83.30 77.73,87.58 77.80,91.00 C77.87,94.42 77.40,99.20 76.60,101.50 C75.80,103.80 74.20,104.80 73.00,104.80 C71.80,104.80 70.20,103.80 69.40,101.50 C68.60,99.20 68.13,94.42 68.20,91.00 C68.27,87.58 69.00,83.30 69.80,81.00 C70.60,78.70 71.93,77.20 73.00,77.20 Z" fill="#fff" fill-opacity="0.32" filter="url(#bl)"/><ellipse cx="33" cy="38" rx="14" ry="14" fill="url(#rg)" opacity="0.55"/><ellipse cx="28" cy="40.2" rx="6.5" ry="7.5" fill="url(#rg)" opacity="1.0"/><ellipse cx="73" cy="91" rx="4" ry="12" fill="url(#rg)" opacity="0.06"/></g></g><line x1="169.3" y1="623.0" x2="293.3" y2="623.0" stroke="#3a3a3a" stroke-width="0.85"/><line x1="228.6" y1="561.1" x2="228.6" y2="623.0" stroke="#3a3a3a" stroke-width="0.85"/><line x1="217.6" y1="623.0" x2="217.6" y2="683.0" stroke="#3a3a3a" stroke-width="0.85"/><line x1="293.3" y1="623.0" x2="417.0" y2="623.0" stroke="#3a3a3a" stroke-width="0.85"/><line x1="352.4" y1="561.1" x2="352.4" y2="623.0" stroke="#3a3a3a" stroke-width="0.85"/><line x1="340.7" y1="623.0" x2="340.7" y2="683.0" stroke="#3a3a3a" stroke-width="0.85"/><line x1="417.0" y1="623.0" x2="540.4" y2="623.0" stroke="#3a3a3a" stroke-width="0.85"/><line x1="477.0" y1="561.1" x2="477.0" y2="623.0" stroke="#3a3a3a" stroke-width="0.85"/><line x1="464.0" y1="623.0" x2="464.0" y2="683.0" stroke="#3a3a3a" stroke-width="0.85"/><line x1="169.3" y1="745.0" x2="293.3" y2="745.0" stroke="#3a3a3a" stroke-width="0.85"/><line x1="216.2" y1="683.0" x2="216.2" y2="808.0" stroke="#3a3a3a" stroke-width="0.85"/><line x1="293.3" y1="745.0" x2="417.0" y2="745.0" stroke="#3a3a3a" stroke-width="0.85"/><line x1="340.9" y1="683.0" x2="340.9" y2="808.0" stroke="#3a3a3a" stroke-width="0.85"/><line x1="417.0" y1="745.0" x2="540.4" y2="745.0" stroke="#3a3a3a" stroke-width="0.85"/><line x1="464.4" y1="683.0" x2="464.4" y2="808.0" stroke="#3a3a3a" stroke-width="0.85"/><line x1="169.3" y1="870.2" x2="293.3" y2="870.2" stroke="#3a3a3a" stroke-width="0.85"/><line x1="216.7" y1="808.0" x2="216.7" y2="932.5" stroke="#3a3a3a" stroke-width="0.85"/><line x1="293.3" y1="870.2" x2="417.0" y2="870.2" stroke="#3a3a3a" stroke-width="0.85"/><line x1="340.5" y1="808.0" x2="340.5" y2="932.5" stroke="#3a3a3a" stroke-width="0.85"/><line x1="417.0" y1="870.2" x2="540.4" y2="870.2" stroke="#3a3a3a" stroke-width="0.85"/><line x1="462.8" y1="808.0" x2="462.8" y2="932.5" stroke="#3a3a3a" stroke-width="0.85"/><line x1="537.6" y1="870.2" x2="537.6" y2="930.6" stroke="#3a3a3a" stroke-width="0.85"/><line x1="462.8" y1="930.6" x2="537.6" y2="930.6" stroke="#3a3a3a" stroke-width="0.85"/><rect x="169.3" y="561.1" width="124.0" height="121.89999999999998" fill="none" stroke="#5a5a5a" stroke-width="1.0"/><rect x="293.3" y="561.1" width="123.69999999999999" height="121.89999999999998" fill="none" stroke="#5a5a5a" stroke-width="1.0"/><rect x="417.0" y="561.1" width="123.39999999999998" height="121.89999999999998" fill="none" stroke="#5a5a5a" stroke-width="1.0"/><rect x="169.3" y="683.0" width="124.0" height="125.0" fill="none" stroke="#5a5a5a" stroke-width="1.0"/><rect x="293.3" y="683.0" width="123.69999999999999" height="125.0" fill="none" stroke="#5a5a5a" stroke-width="1.0"/><rect x="417.0" y="683.0" width="123.39999999999998" height="125.0" fill="none" stroke="#5a5a5a" stroke-width="1.0"/><rect x="169.3" y="808.0" width="124.0" height="124.5" fill="none" stroke="#5a5a5a" stroke-width="1.0"/><rect x="293.3" y="808.0" width="123.69999999999999" height="124.5" fill="none" stroke="#5a5a5a" stroke-width="1.0"/><rect x="417.0" y="808.0" width="123.39999999999998" height="124.5" fill="none" stroke="#5a5a5a" stroke-width="1.0"/><text x="174.2" y="571.3" font-size="8.1" text-anchor="start" fill="#222">46±12%</text><text x="291.8" y="678.6" font-size="8.1" text-anchor="end" fill="#222">40±12%</text><text x="295.7" y="570.6" font-size="8.1" text-anchor="start" fill="#222">69±7%</text><text x="408.6" y="678.0" font-size="8.1" text-anchor="end" fill="#222">20±6%</text><text x="421.7" y="570.6" font-size="8.1" text-anchor="start" fill="#222">70±3%</text><text x="533.8" y="678.0" font-size="8.1" text-anchor="end" fill="#222">20±3%</text><text x="172.0" y="692.9" font-size="8.1" text-anchor="start" fill="#222">57±11%</text><text x="290.2" y="799.3" font-size="8.1" text-anchor="end" fill="#222">38±11%</text><text x="294.4" y="692.9" font-size="8.1" text-anchor="start" fill="#222">85±3%</text><text x="408.6" y="799.0" font-size="8.1" text-anchor="end" fill="#222">11±2%</text><text x="419.8" y="692.9" font-size="8.1" text-anchor="start" fill="#222">83±2%</text><text x="532.8" y="799.0" font-size="8.1" text-anchor="end" fill="#222">13±1%</text><text x="172.0" y="818.6" font-size="8.1" text-anchor="start" fill="#222">31±16%</text><text x="290.4" y="924.2" font-size="8.1" text-anchor="end" fill="#222">68±16%</text><text x="295.6" y="818.6" font-size="8.1" text-anchor="start" fill="#222">89±19%</text><text x="415.4" y="924.4" font-size="8.1" text-anchor="end" fill="#222">11±19%</text><text x="419.0" y="818.6" font-size="8.1" text-anchor="start" fill="#222">97±2%</text><text x="527.6" y="924.4" font-size="8.1" text-anchor="end" fill="#222">3±2%</text><text transform="translate(160.6,573.0) rotate(-90)" x="0" y="0" font-size="5.0" text-anchor="middle" fill="#111" stroke="#111" stroke-width="0.15">10<tspan font-size="3.6" dy="-1.6">5</tspan></text><line x1="166.0" y1="573.0" x2="169.2" y2="573.0" stroke="#333" stroke-width="0.7"/><text transform="translate(160.6,602.7) rotate(-90)" x="0" y="0" font-size="5.0" text-anchor="middle" fill="#111" stroke="#111" stroke-width="0.15">10<tspan font-size="3.6" dy="-1.6">4</tspan></text><line x1="166.0" y1="602.7" x2="169.2" y2="602.7" stroke="#333" stroke-width="0.7"/><text transform="translate(160.6,635.8) rotate(-90)" x="0" y="0" font-size="5.0" text-anchor="middle" fill="#111" stroke="#111" stroke-width="0.15">10<tspan font-size="3.6" dy="-1.6">3</tspan></text><line x1="166.0" y1="635.8" x2="169.2" y2="635.8" stroke="#333" stroke-width="0.7"/><text transform="translate(160.6,656.2) rotate(-90)" x="0" y="0" font-size="5.0" text-anchor="middle" fill="#111" stroke="#111" stroke-width="0.15">0</text><line x1="166.0" y1="656.2" x2="169.2" y2="656.2" stroke="#333" stroke-width="0.7"/><text transform="translate(160.6,677.8) rotate(-90)" x="0" y="0" font-size="5.0" text-anchor="middle" fill="#111" stroke="#111" stroke-width="0.15">-10<tspan font-size="3.6" dy="-1.6">3</tspan></text><line x1="166.0" y1="677.8" x2="169.2" y2="677.8" stroke="#333" stroke-width="0.7"/><line x1="167.6" y1="625.8359071435221" x2="169.2" y2="625.8359071435221" stroke="#555" stroke-width="0.5"/><line x1="167.6" y1="620.0072864687792" x2="169.2" y2="620.0072864687792" stroke="#555" stroke-width="0.5"/><line x1="167.6" y1="615.8718142870445" x2="169.2" y2="615.8718142870445" stroke="#555" stroke-width="0.5"/><line x1="167.6" y1="612.6640928564777" x2="169.2" y2="612.6640928564777" stroke="#555" stroke-width="0.5"/><line x1="167.6" y1="610.0431936123014" x2="169.2" y2="610.0431936123014" stroke="#555" stroke-width="0.5"/><line x1="167.6" y1="607.8272548755282" x2="169.2" y2="607.8272548755282" stroke="#555" stroke-width="0.5"/><line x1="167.6" y1="605.9077214305667" x2="169.2" y2="605.9077214305667" stroke="#555" stroke-width="0.5"/><line x1="167.6" y1="604.2145729375584" x2="169.2" y2="604.2145729375584" stroke="#555" stroke-width="0.5"/><line x1="167.6" y1="593.7594091287798" x2="169.2" y2="593.7594091287798" stroke="#555" stroke-width="0.5"/><line x1="167.6" y1="588.529498734826" x2="169.2" y2="588.529498734826" stroke="#555" stroke-width="0.5"/><line x1="167.6" y1="584.8188182575595" x2="169.2" y2="584.8188182575595" stroke="#555" stroke-width="0.5"/><line x1="167.6" y1="581.9405908712203" x2="169.2" y2="581.9405908712203" stroke="#555" stroke-width="0.5"/><line x1="167.6" y1="579.5889078636058" x2="169.2" y2="579.5889078636058" stroke="#555" stroke-width="0.5"/><line x1="167.6" y1="577.6005882115766" x2="169.2" y2="577.6005882115766" stroke="#555" stroke-width="0.5"/><line x1="167.6" y1="575.8782273863393" x2="169.2" y2="575.8782273863393" stroke="#555" stroke-width="0.5"/><line x1="167.6" y1="574.3589974696521" x2="169.2" y2="574.3589974696521" stroke="#555" stroke-width="0.5"/><line x1="167.6" y1="651.1" x2="169.2" y2="651.1" stroke="#555" stroke-width="0.5"/><line x1="167.6" y1="661.6" x2="169.2" y2="661.6" stroke="#555" stroke-width="0.5"/><line x1="167.6" y1="647.02" x2="169.2" y2="647.02" stroke="#555" stroke-width="0.5"/><line x1="167.6" y1="665.92" x2="169.2" y2="665.92" stroke="#555" stroke-width="0.5"/><line x1="167.6" y1="643.96" x2="169.2" y2="643.96" stroke="#555" stroke-width="0.5"/><line x1="167.6" y1="669.16" x2="169.2" y2="669.16" stroke="#555" stroke-width="0.5"/><line x1="167.6" y1="641.512" x2="169.2" y2="641.512" stroke="#555" stroke-width="0.5"/><line x1="167.6" y1="671.752" x2="169.2" y2="671.752" stroke="#555" stroke-width="0.5"/><line x1="167.6" y1="639.472" x2="169.2" y2="639.472" stroke="#555" stroke-width="0.5"/><line x1="167.6" y1="673.9119999999999" x2="169.2" y2="673.9119999999999" stroke="#555" stroke-width="0.5"/><line x1="167.6" y1="637.8399999999999" x2="169.2" y2="637.8399999999999" stroke="#555" stroke-width="0.5"/><line x1="167.6" y1="675.64" x2="169.2" y2="675.64" stroke="#555" stroke-width="0.5"/><rect x="167.0" y="654.0" width="2.2" height="4.4" fill="#222"/><text transform="translate(160.6,695.2) rotate(-90)" x="0" y="0" font-size="5.0" text-anchor="middle" fill="#111" stroke="#111" stroke-width="0.15">10<tspan font-size="3.6" dy="-1.6">5</tspan></text><line x1="166.0" y1="695.2" x2="169.2" y2="695.2" stroke="#333" stroke-width="0.7"/><text transform="translate(160.6,724.5) rotate(-90)" x="0" y="0" font-size="5.0" text-anchor="middle" fill="#111" stroke="#111" stroke-width="0.15">10<tspan font-size="3.6" dy="-1.6">4</tspan></text><line x1="166.0" y1="724.5" x2="169.2" y2="724.5" stroke="#333" stroke-width="0.7"/><text transform="translate(160.6,759.0) rotate(-90)" x="0" y="0" font-size="5.0" text-anchor="middle" fill="#111" stroke="#111" stroke-width="0.15">10<tspan font-size="3.6" dy="-1.6">3</tspan></text><line x1="166.0" y1="759.0" x2="169.2" y2="759.0" stroke="#333" stroke-width="0.7"/><text transform="translate(160.6,779.0) rotate(-90)" x="0" y="0" font-size="5.0" text-anchor="middle" fill="#111" stroke="#111" stroke-width="0.15">0</text><line x1="166.0" y1="779.0" x2="169.2" y2="779.0" stroke="#333" stroke-width="0.7"/><text transform="translate(160.6,800.0) rotate(-90)" x="0" y="0" font-size="5.0" text-anchor="middle" fill="#111" stroke="#111" stroke-width="0.15">-10<tspan font-size="3.6" dy="-1.6">3</tspan></text><line x1="166.0" y1="800.0" x2="169.2" y2="800.0" stroke="#333" stroke-width="0.7"/><line x1="167.6" y1="748.6144651495927" x2="169.2" y2="748.6144651495927" stroke="#555" stroke-width="0.5"/><line x1="167.6" y1="742.5393167121716" x2="169.2" y2="742.5393167121716" stroke="#555" stroke-width="0.5"/><line x1="167.6" y1="738.2289302991853" x2="169.2" y2="738.2289302991853" stroke="#555" stroke-width="0.5"/><line x1="167.6" y1="734.8855348504073" x2="169.2" y2="734.8855348504073" stroke="#555" stroke-width="0.5"/><line x1="167.6" y1="732.1537818617643" x2="169.2" y2="732.1537818617643" stroke="#555" stroke-width="0.5"/><line x1="167.6" y1="729.8441176195081" x2="169.2" y2="729.8441176195081" stroke="#555" stroke-width="0.5"/><line x1="167.6" y1="727.843395448778" x2="169.2" y2="727.843395448778" stroke="#555" stroke-width="0.5"/><line x1="167.6" y1="726.0786334243433" x2="169.2" y2="726.0786334243433" stroke="#555" stroke-width="0.5"/><line x1="167.6" y1="715.6798211270453" x2="169.2" y2="715.6798211270453" stroke="#555" stroke-width="0.5"/><line x1="167.6" y1="710.5203472367139" x2="169.2" y2="710.5203472367139" stroke="#555" stroke-width="0.5"/><line x1="167.6" y1="706.8596422540908" x2="169.2" y2="706.8596422540908" stroke="#555" stroke-width="0.5"/><line x1="167.6" y1="704.0201788729547" x2="169.2" y2="704.0201788729547" stroke="#555" stroke-width="0.5"/><line x1="167.6" y1="701.7001683637593" x2="169.2" y2="701.7001683637593" stroke="#555" stroke-width="0.5"/><line x1="167.6" y1="699.7386274275823" x2="169.2" y2="699.7386274275823" stroke="#555" stroke-width="0.5"/><line x1="167.6" y1="698.0394633811361" x2="169.2" y2="698.0394633811361" stroke="#555" stroke-width="0.5"/><line x1="167.6" y1="696.5406944734278" x2="169.2" y2="696.5406944734278" stroke="#555" stroke-width="0.5"/><line x1="167.6" y1="774.0" x2="169.2" y2="774.0" stroke="#555" stroke-width="0.5"/><line x1="167.6" y1="784.25" x2="169.2" y2="784.25" stroke="#555" stroke-width="0.5"/><line x1="167.6" y1="770.0" x2="169.2" y2="770.0" stroke="#555" stroke-width="0.5"/><line x1="167.6" y1="788.45" x2="169.2" y2="788.45" stroke="#555" stroke-width="0.5"/><line x1="167.6" y1="767.0" x2="169.2" y2="767.0" stroke="#555" stroke-width="0.5"/><line x1="167.6" y1="791.6" x2="169.2" y2="791.6" stroke="#555" stroke-width="0.5"/><line x1="167.6" y1="764.6" x2="169.2" y2="764.6" stroke="#555" stroke-width="0.5"/><line x1="167.6" y1="794.12" x2="169.2" y2="794.12" stroke="#555" stroke-width="0.5"/><line x1="167.6" y1="762.6" x2="169.2" y2="762.6" stroke="#555" stroke-width="0.5"/><line x1="167.6" y1="796.22" x2="169.2" y2="796.22" stroke="#555" stroke-width="0.5"/><line x1="167.6" y1="761.0" x2="169.2" y2="761.0" stroke="#555" stroke-width="0.5"/><line x1="167.6" y1="797.9" x2="169.2" y2="797.9" stroke="#555" stroke-width="0.5"/><rect x="167.0" y="776.8" width="2.2" height="4.4" fill="#222"/><text transform="translate(160.6,821.3) rotate(-90)" x="0" y="0" font-size="5.0" text-anchor="middle" fill="#111" stroke="#111" stroke-width="0.15">10<tspan font-size="3.6" dy="-1.6">5</tspan></text><line x1="166.0" y1="821.3" x2="169.2" y2="821.3" stroke="#333" stroke-width="0.7"/><text transform="translate(160.6,850.1) rotate(-90)" x="0" y="0" font-size="5.0" text-anchor="middle" fill="#111" stroke="#111" stroke-width="0.15">10<tspan font-size="3.6" dy="-1.6">4</tspan></text><line x1="166.0" y1="850.1" x2="169.2" y2="850.1" stroke="#333" stroke-width="0.7"/><text transform="translate(160.6,885.1) rotate(-90)" x="0" y="0" font-size="5.0" text-anchor="middle" fill="#111" stroke="#111" stroke-width="0.15">10<tspan font-size="3.6" dy="-1.6">3</tspan></text><line x1="166.0" y1="885.1" x2="169.2" y2="885.1" stroke="#333" stroke-width="0.7"/><text transform="translate(160.6,904.7) rotate(-90)" x="0" y="0" font-size="5.0" text-anchor="middle" fill="#111" stroke="#111" stroke-width="0.15">0</text><line x1="166.0" y1="904.7" x2="169.2" y2="904.7" stroke="#333" stroke-width="0.7"/><text transform="translate(160.6,925.7) rotate(-90)" x="0" y="0" font-size="5.0" text-anchor="middle" fill="#111" stroke="#111" stroke-width="0.15">-10<tspan font-size="3.6" dy="-1.6">3</tspan></text><line x1="166.0" y1="925.7" x2="169.2" y2="925.7" stroke="#333" stroke-width="0.7"/><line x1="167.6" y1="874.5639501517607" x2="169.2" y2="874.5639501517607" stroke="#555" stroke-width="0.5"/><line x1="167.6" y1="868.4007560848119" x2="169.2" y2="868.4007560848119" stroke="#555" stroke-width="0.5"/><line x1="167.6" y1="864.0279003035214" x2="169.2" y2="864.0279003035214" stroke="#555" stroke-width="0.5"/><line x1="167.6" y1="860.6360498482394" x2="169.2" y2="860.6360498482394" stroke="#555" stroke-width="0.5"/><line x1="167.6" y1="857.8647062365725" x2="169.2" y2="857.8647062365725" stroke="#555" stroke-width="0.5"/><line x1="167.6" y1="855.521568599501" x2="169.2" y2="855.521568599501" stroke="#555" stroke-width="0.5"/><line x1="167.6" y1="853.491850455282" x2="169.2" y2="853.491850455282" stroke="#555" stroke-width="0.5"/><line x1="167.6" y1="851.7015121696237" x2="169.2" y2="851.7015121696237" stroke="#555" stroke-width="0.5"/><line x1="167.6" y1="841.4303361248774" x2="169.2" y2="841.4303361248774" stroke="#555" stroke-width="0.5"/><line x1="167.6" y1="836.3589078640737" x2="169.2" y2="836.3589078640737" stroke="#555" stroke-width="0.5"/><line x1="167.6" y1="832.7606722497546" x2="169.2" y2="832.7606722497546" stroke="#555" stroke-width="0.5"/><line x1="167.6" y1="829.9696638751226" x2="169.2" y2="829.9696638751226" stroke="#555" stroke-width="0.5"/><line x1="167.6" y1="827.689243988951" x2="169.2" y2="827.689243988951" stroke="#555" stroke-width="0.5"/><line x1="167.6" y1="825.7611764475894" x2="169.2" y2="825.7611764475894" stroke="#555" stroke-width="0.5"/><line x1="167.6" y1="824.091008374632" x2="169.2" y2="824.091008374632" stroke="#555" stroke-width="0.5"/><line x1="167.6" y1="822.6178157281474" x2="169.2" y2="822.6178157281474" stroke="#555" stroke-width="0.5"/><line x1="167.6" y1="899.8000000000001" x2="169.2" y2="899.8000000000001" stroke="#555" stroke-width="0.5"/><line x1="167.6" y1="909.95" x2="169.2" y2="909.95" stroke="#555" stroke-width="0.5"/><line x1="167.6" y1="895.88" x2="169.2" y2="895.88" stroke="#555" stroke-width="0.5"/><line x1="167.6" y1="914.1500000000001" x2="169.2" y2="914.1500000000001" stroke="#555" stroke-width="0.5"/><line x1="167.6" y1="892.94" x2="169.2" y2="892.94" stroke="#555" stroke-width="0.5"/><line x1="167.6" y1="917.3000000000001" x2="169.2" y2="917.3000000000001" stroke="#555" stroke-width="0.5"/><line x1="167.6" y1="890.5880000000001" x2="169.2" y2="890.5880000000001" stroke="#555" stroke-width="0.5"/><line x1="167.6" y1="919.82" x2="169.2" y2="919.82" stroke="#555" stroke-width="0.5"/><line x1="167.6" y1="888.628" x2="169.2" y2="888.628" stroke="#555" stroke-width="0.5"/><line x1="167.6" y1="921.9200000000001" x2="169.2" y2="921.9200000000001" stroke="#555" stroke-width="0.5"/><line x1="167.6" y1="887.0600000000001" x2="169.2" y2="887.0600000000001" stroke="#555" stroke-width="0.5"/><line x1="167.6" y1="923.6" x2="169.2" y2="923.6" stroke="#555" stroke-width="0.5"/><rect x="167.0" y="902.5" width="2.2" height="4.4" fill="#222"/><text x="180.6" y="943.0" font-size="4.8" text-anchor="middle" fill="#111" stroke="#111" stroke-width="0.15">-10<tspan font-size="3.4" dy="-1.6">3</tspan></text><line x1="180.60000000000002" y1="932.5" x2="180.60000000000002" y2="935.1" stroke="#333" stroke-width="0.7"/><text x="199.1" y="943.0" font-size="4.8" text-anchor="middle" fill="#111" stroke="#111" stroke-width="0.15">0</text><line x1="199.10000000000002" y1="932.5" x2="199.10000000000002" y2="935.1" stroke="#333" stroke-width="0.7"/><text x="221.7" y="943.0" font-size="4.8" text-anchor="middle" fill="#111" stroke="#111" stroke-width="0.15">10<tspan font-size="3.4" dy="-1.6">3</tspan></text><line x1="221.70000000000002" y1="932.5" x2="221.70000000000002" y2="935.1" stroke="#333" stroke-width="0.7"/><text x="255.3" y="943.0" font-size="4.8" text-anchor="middle" fill="#111" stroke="#111" stroke-width="0.15">10<tspan font-size="3.4" dy="-1.6">4</tspan></text><line x1="255.3" y1="932.5" x2="255.3" y2="935.1" stroke="#333" stroke-width="0.7"/><text x="285.0" y="943.0" font-size="4.8" text-anchor="middle" fill="#111" stroke="#111" stroke-width="0.15">10<tspan font-size="3.4" dy="-1.6">5</tspan></text><line x1="285.0" y1="932.5" x2="285.0" y2="935.1" stroke="#333" stroke-width="0.7"/><line x1="231.8146078543098" y1="932.5" x2="231.8146078543098" y2="934.1" stroke="#555" stroke-width="0.5"/><line x1="237.73127415858067" y1="932.5" x2="237.73127415858067" y2="934.1" stroke="#555" stroke-width="0.5"/><line x1="241.92921570861955" y1="932.5" x2="241.92921570861955" y2="934.1" stroke="#555" stroke-width="0.5"/><line x1="245.18539214569026" y1="932.5" x2="245.18539214569026" y2="934.1" stroke="#555" stroke-width="0.5"/><line x1="247.84588201289046" y1="932.5" x2="247.84588201289046" y2="934.1" stroke="#555" stroke-width="0.5"/><line x1="250.09529414447906" y1="932.5" x2="250.09529414447906" y2="934.1" stroke="#555" stroke-width="0.5"/><line x1="252.04382356292933" y1="932.5" x2="252.04382356292933" y2="934.1" stroke="#555" stroke-width="0.5"/><line x1="253.76254831716133" y1="932.5" x2="253.76254831716133" y2="934.1" stroke="#555" stroke-width="0.5"/><line x1="264.24059087122026" y1="932.5" x2="264.24059087122026" y2="934.1" stroke="#555" stroke-width="0.5"/><line x1="269.470501265174" y1="932.5" x2="269.470501265174" y2="934.1" stroke="#555" stroke-width="0.5"/><line x1="273.1811817424405" y1="932.5" x2="273.1811817424405" y2="934.1" stroke="#555" stroke-width="0.5"/><line x1="276.05940912877975" y1="932.5" x2="276.05940912877975" y2="934.1" stroke="#555" stroke-width="0.5"/><line x1="278.41109213639425" y1="932.5" x2="278.41109213639425" y2="934.1" stroke="#555" stroke-width="0.5"/><line x1="280.39941178842344" y1="932.5" x2="280.39941178842344" y2="934.1" stroke="#555" stroke-width="0.5"/><line x1="282.1217726136607" y1="932.5" x2="282.1217726136607" y2="934.1" stroke="#555" stroke-width="0.5"/><line x1="283.641002530348" y1="932.5" x2="283.641002530348" y2="934.1" stroke="#555" stroke-width="0.5"/><line x1="204.75000000000003" y1="932.5" x2="204.75000000000003" y2="934.1" stroke="#555" stroke-width="0.5"/><line x1="194.47500000000002" y1="932.5" x2="194.47500000000002" y2="934.1" stroke="#555" stroke-width="0.5"/><line x1="209.27" y1="932.5" x2="209.27" y2="934.1" stroke="#555" stroke-width="0.5"/><line x1="190.77500000000003" y1="932.5" x2="190.77500000000003" y2="934.1" stroke="#555" stroke-width="0.5"/><line x1="212.66000000000003" y1="932.5" x2="212.66000000000003" y2="934.1" stroke="#555" stroke-width="0.5"/><line x1="188.00000000000003" y1="932.5" x2="188.00000000000003" y2="934.1" stroke="#555" stroke-width="0.5"/><line x1="215.372" y1="932.5" x2="215.372" y2="934.1" stroke="#555" stroke-width="0.5"/><line x1="185.78000000000003" y1="932.5" x2="185.78000000000003" y2="934.1" stroke="#555" stroke-width="0.5"/><line x1="217.632" y1="932.5" x2="217.632" y2="934.1" stroke="#555" stroke-width="0.5"/><line x1="183.93000000000004" y1="932.5" x2="183.93000000000004" y2="934.1" stroke="#555" stroke-width="0.5"/><line x1="219.44000000000003" y1="932.5" x2="219.44000000000003" y2="934.1" stroke="#555" stroke-width="0.5"/><line x1="182.45000000000002" y1="932.5" x2="182.45000000000002" y2="934.1" stroke="#555" stroke-width="0.5"/><rect x="196.1" y="932.5" width="6" height="2.2" fill="#222"/><text x="304.6" y="943.0" font-size="4.8" text-anchor="middle" fill="#111" stroke="#111" stroke-width="0.15">-10<tspan font-size="3.4" dy="-1.6">3</tspan></text><line x1="304.6" y1="932.5" x2="304.6" y2="935.1" stroke="#333" stroke-width="0.7"/><text x="323.1" y="943.0" font-size="4.8" text-anchor="middle" fill="#111" stroke="#111" stroke-width="0.15">0</text><line x1="323.1" y1="932.5" x2="323.1" y2="935.1" stroke="#333" stroke-width="0.7"/><text x="345.7" y="943.0" font-size="4.8" text-anchor="middle" fill="#111" stroke="#111" stroke-width="0.15">10<tspan font-size="3.4" dy="-1.6">3</tspan></text><line x1="345.7" y1="932.5" x2="345.7" y2="935.1" stroke="#333" stroke-width="0.7"/><text x="379.3" y="943.0" font-size="4.8" text-anchor="middle" fill="#111" stroke="#111" stroke-width="0.15">10<tspan font-size="3.4" dy="-1.6">4</tspan></text><line x1="379.3" y1="932.5" x2="379.3" y2="935.1" stroke="#333" stroke-width="0.7"/><text x="409.0" y="943.0" font-size="4.8" text-anchor="middle" fill="#111" stroke="#111" stroke-width="0.15">10<tspan font-size="3.4" dy="-1.6">5</tspan></text><line x1="409.0" y1="932.5" x2="409.0" y2="935.1" stroke="#333" stroke-width="0.7"/><line x1="355.81460785430977" y1="932.5" x2="355.81460785430977" y2="934.1" stroke="#555" stroke-width="0.5"/><line x1="361.7312741585806" y1="932.5" x2="361.7312741585806" y2="934.1" stroke="#555" stroke-width="0.5"/><line x1="365.92921570861955" y1="932.5" x2="365.92921570861955" y2="934.1" stroke="#555" stroke-width="0.5"/><line x1="369.18539214569023" y1="932.5" x2="369.18539214569023" y2="934.1" stroke="#555" stroke-width="0.5"/><line x1="371.8458820128904" y1="932.5" x2="371.8458820128904" y2="934.1" stroke="#555" stroke-width="0.5"/><line x1="374.095294144479" y1="932.5" x2="374.095294144479" y2="934.1" stroke="#555" stroke-width="0.5"/><line x1="376.0438235629293" y1="932.5" x2="376.0438235629293" y2="934.1" stroke="#555" stroke-width="0.5"/><line x1="377.7625483171613" y1="932.5" x2="377.7625483171613" y2="934.1" stroke="#555" stroke-width="0.5"/><line x1="388.24059087122026" y1="932.5" x2="388.24059087122026" y2="934.1" stroke="#555" stroke-width="0.5"/><line x1="393.470501265174" y1="932.5" x2="393.470501265174" y2="934.1" stroke="#555" stroke-width="0.5"/><line x1="397.1811817424405" y1="932.5" x2="397.1811817424405" y2="934.1" stroke="#555" stroke-width="0.5"/><line x1="400.05940912877975" y1="932.5" x2="400.05940912877975" y2="934.1" stroke="#555" stroke-width="0.5"/><line x1="402.41109213639425" y1="932.5" x2="402.41109213639425" y2="934.1" stroke="#555" stroke-width="0.5"/><line x1="404.39941178842344" y1="932.5" x2="404.39941178842344" y2="934.1" stroke="#555" stroke-width="0.5"/><line x1="406.1217726136607" y1="932.5" x2="406.1217726136607" y2="934.1" stroke="#555" stroke-width="0.5"/><line x1="407.641002530348" y1="932.5" x2="407.641002530348" y2="934.1" stroke="#555" stroke-width="0.5"/><line x1="328.75" y1="932.5" x2="328.75" y2="934.1" stroke="#555" stroke-width="0.5"/><line x1="318.475" y1="932.5" x2="318.475" y2="934.1" stroke="#555" stroke-width="0.5"/><line x1="333.27000000000004" y1="932.5" x2="333.27000000000004" y2="934.1" stroke="#555" stroke-width="0.5"/><line x1="314.77500000000003" y1="932.5" x2="314.77500000000003" y2="934.1" stroke="#555" stroke-width="0.5"/><line x1="336.66" y1="932.5" x2="336.66" y2="934.1" stroke="#555" stroke-width="0.5"/><line x1="312.0" y1="932.5" x2="312.0" y2="934.1" stroke="#555" stroke-width="0.5"/><line x1="339.372" y1="932.5" x2="339.372" y2="934.1" stroke="#555" stroke-width="0.5"/><line x1="309.78000000000003" y1="932.5" x2="309.78000000000003" y2="934.1" stroke="#555" stroke-width="0.5"/><line x1="341.632" y1="932.5" x2="341.632" y2="934.1" stroke="#555" stroke-width="0.5"/><line x1="307.93" y1="932.5" x2="307.93" y2="934.1" stroke="#555" stroke-width="0.5"/><line x1="343.44" y1="932.5" x2="343.44" y2="934.1" stroke="#555" stroke-width="0.5"/><line x1="306.45000000000005" y1="932.5" x2="306.45000000000005" y2="934.1" stroke="#555" stroke-width="0.5"/><rect x="320.1" y="932.5" width="6" height="2.2" fill="#222"/><text x="428.3" y="943.0" font-size="4.8" text-anchor="middle" fill="#111" stroke="#111" stroke-width="0.15">-10<tspan font-size="3.4" dy="-1.6">3</tspan></text><line x1="428.3" y1="932.5" x2="428.3" y2="935.1" stroke="#333" stroke-width="0.7"/><text x="446.8" y="943.0" font-size="4.8" text-anchor="middle" fill="#111" stroke="#111" stroke-width="0.15">0</text><line x1="446.8" y1="932.5" x2="446.8" y2="935.1" stroke="#333" stroke-width="0.7"/><text x="469.4" y="943.0" font-size="4.8" text-anchor="middle" fill="#111" stroke="#111" stroke-width="0.15">10<tspan font-size="3.4" dy="-1.6">3</tspan></text><line x1="469.4" y1="932.5" x2="469.4" y2="935.1" stroke="#333" stroke-width="0.7"/><text x="503.0" y="943.0" font-size="4.8" text-anchor="middle" fill="#111" stroke="#111" stroke-width="0.15">10<tspan font-size="3.4" dy="-1.6">4</tspan></text><line x1="503.0" y1="932.5" x2="503.0" y2="935.1" stroke="#333" stroke-width="0.7"/><text x="532.7" y="943.0" font-size="4.8" text-anchor="middle" fill="#111" stroke="#111" stroke-width="0.15">10<tspan font-size="3.4" dy="-1.6">5</tspan></text><line x1="532.7" y1="932.5" x2="532.7" y2="935.1" stroke="#333" stroke-width="0.7"/><line x1="479.51460785430976" y1="932.5" x2="479.51460785430976" y2="934.1" stroke="#555" stroke-width="0.5"/><line x1="485.43127415858066" y1="932.5" x2="485.43127415858066" y2="934.1" stroke="#555" stroke-width="0.5"/><line x1="489.62921570861954" y1="932.5" x2="489.62921570861954" y2="934.1" stroke="#555" stroke-width="0.5"/><line x1="492.8853921456902" y1="932.5" x2="492.8853921456902" y2="934.1" stroke="#555" stroke-width="0.5"/><line x1="495.5458820128904" y1="932.5" x2="495.5458820128904" y2="934.1" stroke="#555" stroke-width="0.5"/><line x1="497.795294144479" y1="932.5" x2="497.795294144479" y2="934.1" stroke="#555" stroke-width="0.5"/><line x1="499.74382356292926" y1="932.5" x2="499.74382356292926" y2="934.1" stroke="#555" stroke-width="0.5"/><line x1="501.4625483171613" y1="932.5" x2="501.4625483171613" y2="934.1" stroke="#555" stroke-width="0.5"/><line x1="511.94059087122025" y1="932.5" x2="511.94059087122025" y2="934.1" stroke="#555" stroke-width="0.5"/><line x1="517.1705012651739" y1="932.5" x2="517.1705012651739" y2="934.1" stroke="#555" stroke-width="0.5"/><line x1="520.8811817424405" y1="932.5" x2="520.8811817424405" y2="934.1" stroke="#555" stroke-width="0.5"/><line x1="523.7594091287798" y1="932.5" x2="523.7594091287798" y2="934.1" stroke="#555" stroke-width="0.5"/><line x1="526.1110921363942" y1="932.5" x2="526.1110921363942" y2="934.1" stroke="#555" stroke-width="0.5"/><line x1="528.0994117884235" y1="932.5" x2="528.0994117884235" y2="934.1" stroke="#555" stroke-width="0.5"/><line x1="529.8217726136608" y1="932.5" x2="529.8217726136608" y2="934.1" stroke="#555" stroke-width="0.5"/><line x1="531.341002530348" y1="932.5" x2="531.341002530348" y2="934.1" stroke="#555" stroke-width="0.5"/><line x1="452.45" y1="932.5" x2="452.45" y2="934.1" stroke="#555" stroke-width="0.5"/><line x1="442.175" y1="932.5" x2="442.175" y2="934.1" stroke="#555" stroke-width="0.5"/><line x1="456.97" y1="932.5" x2="456.97" y2="934.1" stroke="#555" stroke-width="0.5"/><line x1="438.475" y1="932.5" x2="438.475" y2="934.1" stroke="#555" stroke-width="0.5"/><line x1="460.36" y1="932.5" x2="460.36" y2="934.1" stroke="#555" stroke-width="0.5"/><line x1="435.7" y1="932.5" x2="435.7" y2="934.1" stroke="#555" stroke-width="0.5"/><line x1="463.072" y1="932.5" x2="463.072" y2="934.1" stroke="#555" stroke-width="0.5"/><line x1="433.48" y1="932.5" x2="433.48" y2="934.1" stroke="#555" stroke-width="0.5"/><line x1="465.332" y1="932.5" x2="465.332" y2="934.1" stroke="#555" stroke-width="0.5"/><line x1="431.63" y1="932.5" x2="431.63" y2="934.1" stroke="#555" stroke-width="0.5"/><line x1="467.14" y1="932.5" x2="467.14" y2="934.1" stroke="#555" stroke-width="0.5"/><line x1="430.15000000000003" y1="932.5" x2="430.15000000000003" y2="934.1" stroke="#555" stroke-width="0.5"/><rect x="443.8" y="932.5" width="6" height="2.2" fill="#222"/>
</svg>
</body></html>
